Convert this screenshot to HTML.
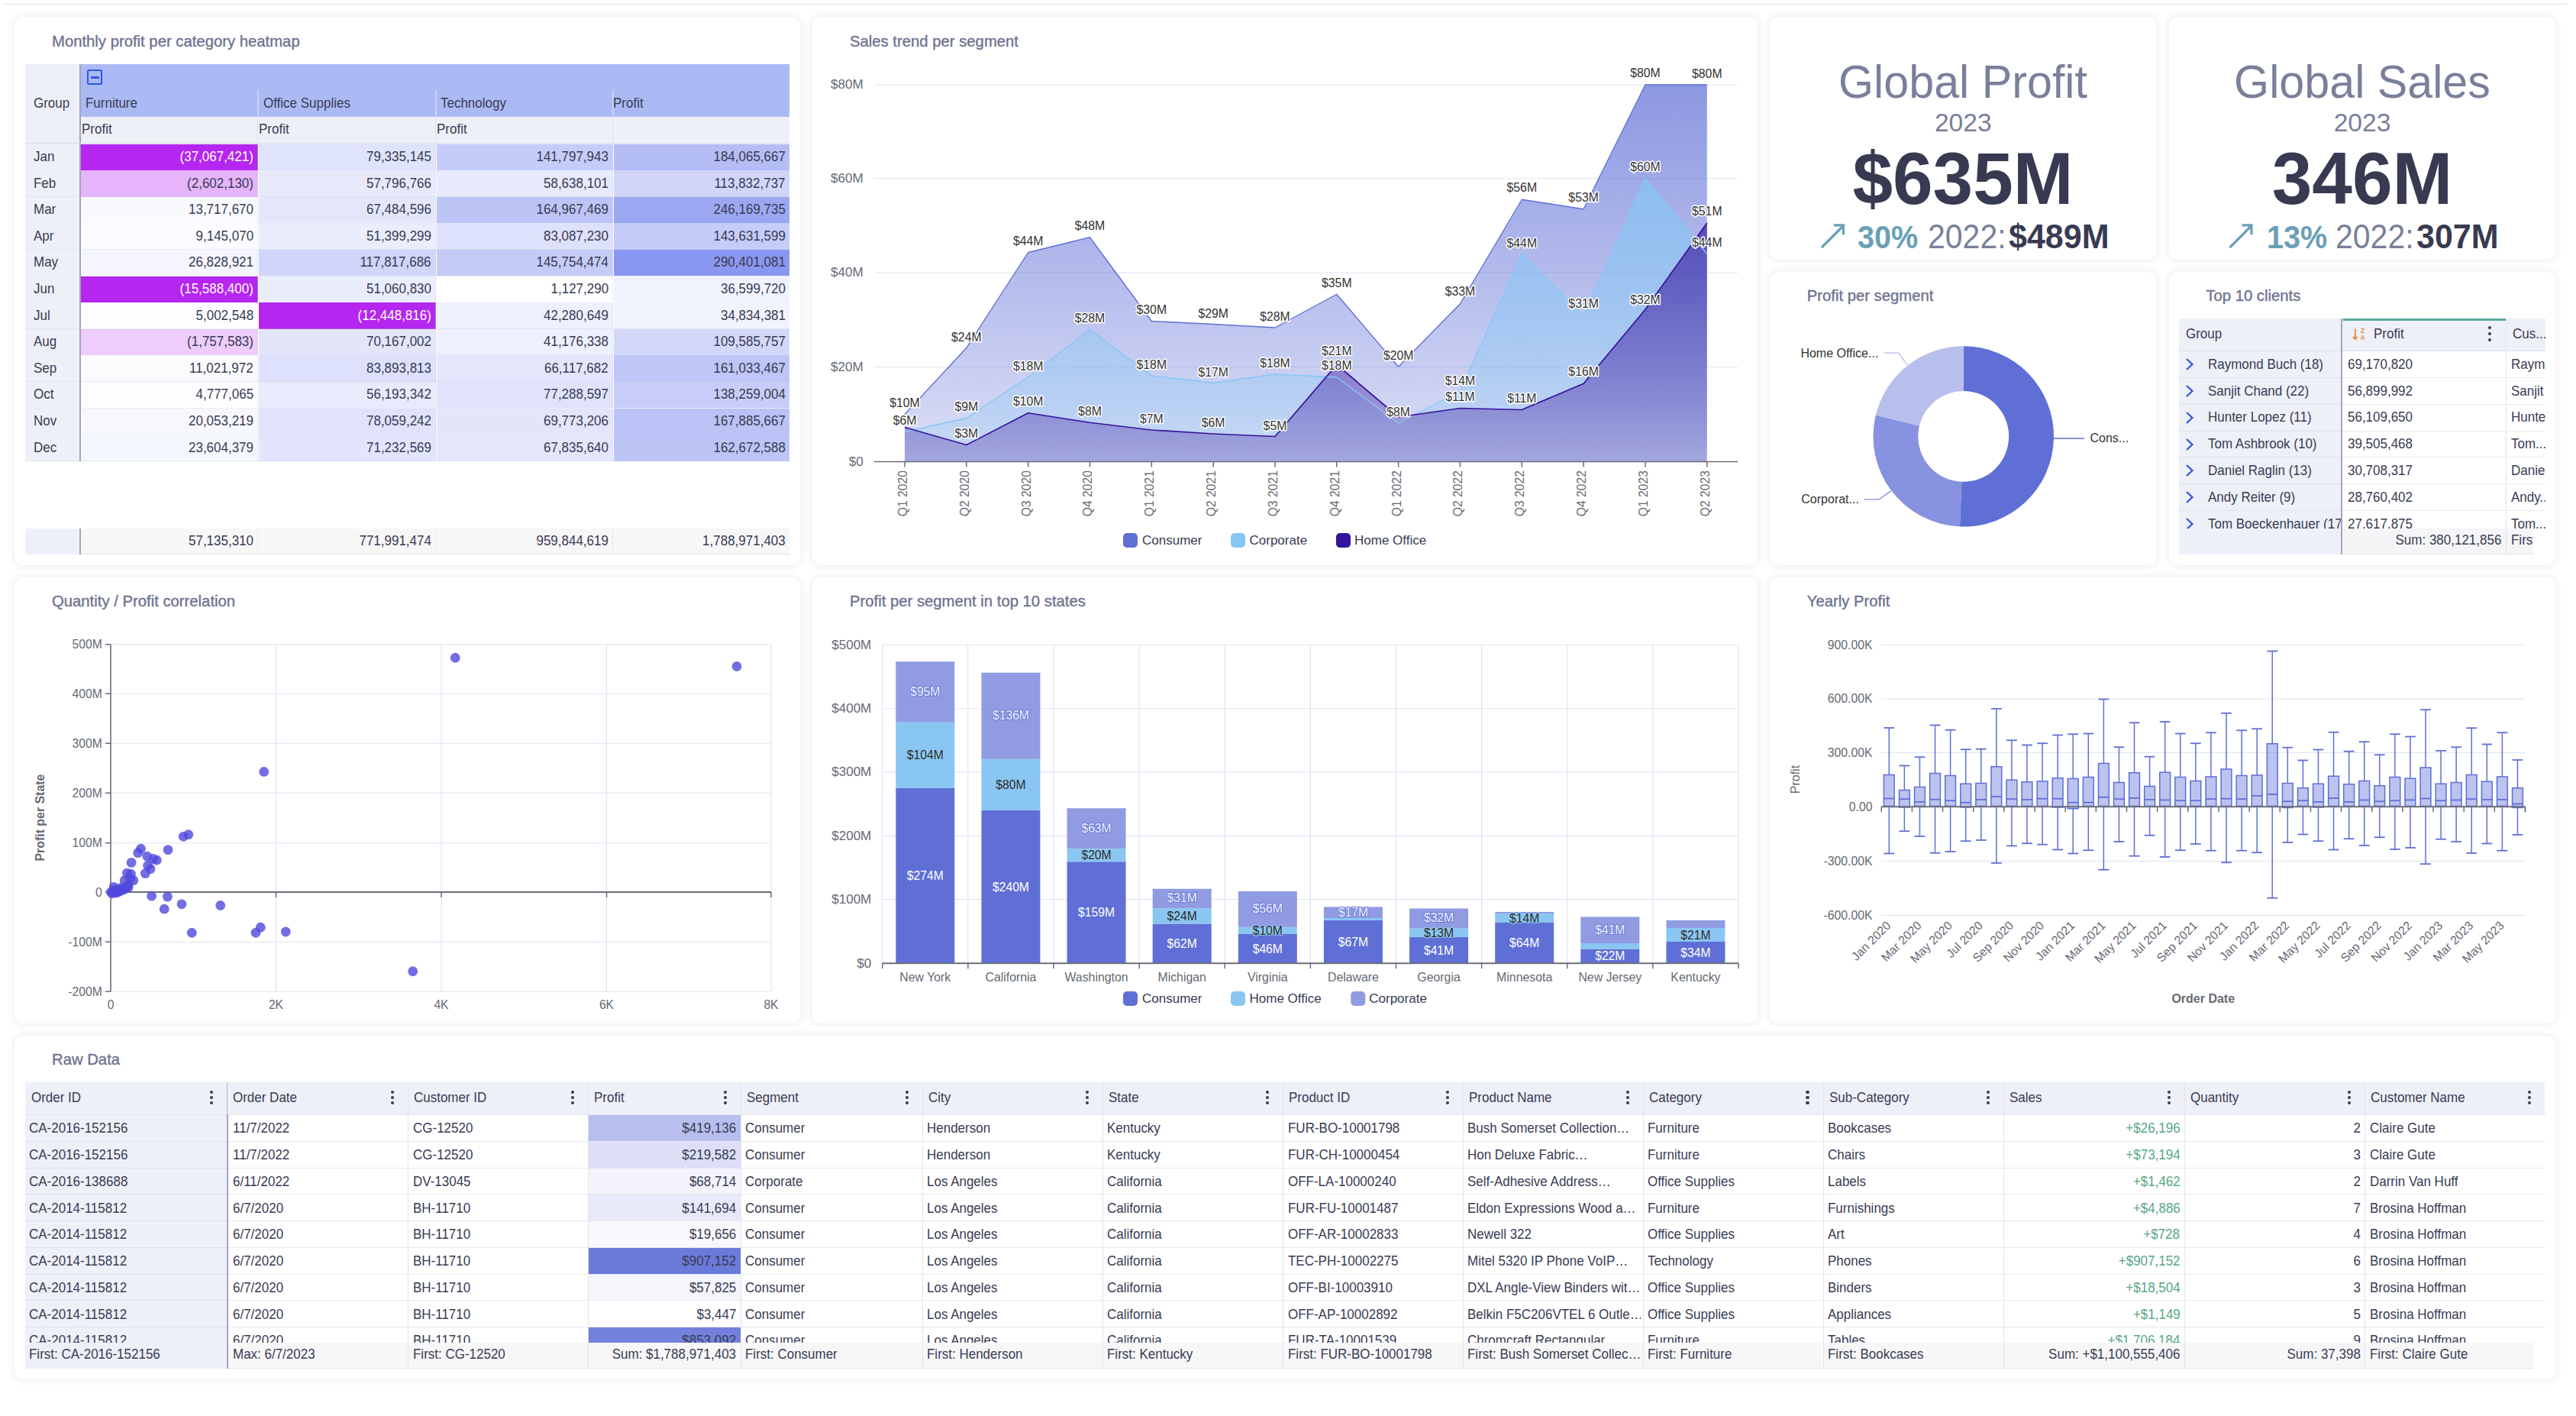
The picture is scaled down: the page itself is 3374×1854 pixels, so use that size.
<!DOCTYPE html><html><head><meta charset="utf-8"><style>
html,body{margin:0;padding:0;} body{width:3374px;height:1854px;position:relative;overflow:hidden;background:#ffffff;font-family:"Liberation Sans", sans-serif;}
.p{position:absolute;background:#fff;border-radius:12px;box-shadow:0 0 10px 2px rgba(40,45,100,0.075);}
.ttl{position:absolute;font-size:20.3px;color:#6d7290;white-space:nowrap;-webkit-text-stroke:0.35px #6d7290;}
.clip{position:absolute;overflow:hidden;white-space:nowrap;}
svg text{font-family:"Liberation Sans", sans-serif;}
</style></head><body>
<div style="position:absolute;left:3px;top:5px;width:3360px;height:1px;background:#e3e4ea"></div>
<div class="p" style="left:19px;top:22px;width:1029px;height:718px"></div>
<div class="p" style="left:1064px;top:22px;width:1238px;height:718px"></div>
<div class="p" style="left:2318px;top:22px;width:507px;height:318px"></div>
<div class="p" style="left:2841px;top:22px;width:506px;height:318px"></div>
<div class="p" style="left:2318px;top:356px;width:507px;height:384px"></div>
<div class="p" style="left:2841px;top:356px;width:506px;height:384px"></div>
<div class="p" style="left:19px;top:756px;width:1029px;height:584px"></div>
<div class="p" style="left:1064px;top:756px;width:1238px;height:584px"></div>
<div class="p" style="left:2318px;top:756px;width:1029px;height:584px"></div>
<div class="p" style="left:19px;top:1356px;width:3328px;height:450px"></div>
<div style="position:absolute;left:68.00px;top:43.34px;font-size:20.3px;line-height:23.34px;color:#6d7290;font-weight:normal;white-space:nowrap;-webkit-text-stroke:0.35px #6d7290;">Monthly profit per category heatmap</div>
<div style="position:absolute;left:1113.00px;top:43.34px;font-size:20.3px;line-height:23.34px;color:#6d7290;font-weight:normal;white-space:nowrap;-webkit-text-stroke:0.35px #6d7290;">Sales trend per segment</div>
<div style="position:absolute;left:2366.70px;top:376.39px;font-size:20.3px;line-height:23.34px;color:#6d7290;font-weight:normal;white-space:nowrap;-webkit-text-stroke:0.35px #6d7290;">Profit per segment</div>
<div style="position:absolute;left:2889.30px;top:376.39px;font-size:20.3px;line-height:23.34px;color:#6d7290;font-weight:normal;white-space:nowrap;-webkit-text-stroke:0.35px #6d7290;">Top 10 clients</div>
<div style="position:absolute;left:68.00px;top:775.84px;font-size:20.3px;line-height:23.34px;color:#6d7290;font-weight:normal;white-space:nowrap;-webkit-text-stroke:0.35px #6d7290;">Quantity / Profit correlation</div>
<div style="position:absolute;left:1113.00px;top:775.84px;font-size:20.3px;line-height:23.34px;color:#6d7290;font-weight:normal;white-space:nowrap;-webkit-text-stroke:0.35px #6d7290;">Profit per segment in top 10 states</div>
<div style="position:absolute;left:2366.75px;top:775.84px;font-size:20.3px;line-height:23.34px;color:#6d7290;font-weight:normal;white-space:nowrap;-webkit-text-stroke:0.35px #6d7290;">Yearly Profit</div>
<div style="position:absolute;left:68.00px;top:1375.84px;font-size:20.3px;line-height:23.34px;color:#6d7290;font-weight:normal;white-space:nowrap;-webkit-text-stroke:0.35px #6d7290;">Raw Data</div>
<div style="position:absolute;left:33px;top:84px;width:71.5px;height:103.5px;background:#eef0f8"></div>
<div style="position:absolute;left:104.5px;top:84px;width:929.5px;height:68.5px;background:#abbaf4"></div>
<div style="position:absolute;left:104.5px;top:152.5px;width:929.5px;height:35.0px;background:#eef0f8"></div>
<div style="position:absolute;left:337.0px;top:118px;width:1.5px;height:34.5px;background:#c9d2f7"></div>
<div style="position:absolute;left:337.0px;top:152.5px;width:1px;height:35.0px;background:#dcdfea"></div>
<div style="position:absolute;left:570.0px;top:118px;width:1.5px;height:34.5px;background:#c9d2f7"></div>
<div style="position:absolute;left:570.0px;top:152.5px;width:1px;height:35.0px;background:#dcdfea"></div>
<div style="position:absolute;left:802.0px;top:118px;width:1.5px;height:34.5px;background:#c9d2f7"></div>
<div style="position:absolute;left:802.0px;top:152.5px;width:1px;height:35.0px;background:#dcdfea"></div>
<div style="position:absolute;left:114px;top:91.1px;width:15.8px;height:15.7px;border:2.5px solid #2f55e6;border-radius:2.5px;box-sizing:content-box"></div>
<div style="position:absolute;left:119.2px;top:100.3px;width:10.4px;height:2.4px;background:#2f55e6;border-radius:1px"></div>
<div style="position:absolute;left:43.75px;top:124.60px;font-size:17.8px;line-height:20.47px;color:#383b53;font-weight:normal;white-space:nowrap;transform:scaleX(0.955);transform-origin:left center;">Group</div>
<div style="position:absolute;left:111.75px;top:124.60px;font-size:17.8px;line-height:20.47px;color:#383b53;font-weight:normal;white-space:nowrap;transform:scaleX(0.955);transform-origin:left center;">Furniture</div>
<div style="position:absolute;left:344.50px;top:124.60px;font-size:17.8px;line-height:20.47px;color:#383b53;font-weight:normal;white-space:nowrap;transform:scaleX(0.955);transform-origin:left center;">Office Supplies</div>
<div style="position:absolute;left:577.00px;top:124.60px;font-size:17.8px;line-height:20.47px;color:#383b53;font-weight:normal;white-space:nowrap;transform:scaleX(0.955);transform-origin:left center;">Technology</div>
<div style="position:absolute;left:803.25px;top:124.60px;font-size:17.8px;line-height:20.47px;color:#383b53;font-weight:normal;white-space:nowrap;transform:scaleX(0.955);transform-origin:left center;">Profit</div>
<div style="position:absolute;left:106.75px;top:158.60px;font-size:17.8px;line-height:20.47px;color:#383b53;font-weight:normal;white-space:nowrap;transform:scaleX(0.955);transform-origin:left center;">Profit</div>
<div style="position:absolute;left:338.75px;top:158.60px;font-size:17.8px;line-height:20.47px;color:#383b53;font-weight:normal;white-space:nowrap;transform:scaleX(0.955);transform-origin:left center;">Profit</div>
<div style="position:absolute;left:571.50px;top:158.60px;font-size:17.8px;line-height:20.47px;color:#383b53;font-weight:normal;white-space:nowrap;transform:scaleX(0.955);transform-origin:left center;">Profit</div>
<div style="position:absolute;left:33px;top:187.5px;width:1001px;height:1.0px;background:#e6e8f0"></div>
<div style="position:absolute;left:33px;top:188.5px;width:71.5px;height:34.6px;background:#eef0f8"></div>
<div style="position:absolute;left:43.75px;top:195.00px;font-size:17.8px;line-height:20.47px;color:#383b53;font-weight:normal;white-space:nowrap;transform:scaleX(0.955);transform-origin:left center;">Jan</div>
<div style="position:absolute;left:105.5px;top:188.5px;width:232.0px;height:34.6px;background:#b526f0"></div>
<div style="position:absolute;right:3042.00px;top:195.00px;font-size:17.8px;line-height:20.47px;color:#ffffff;font-weight:normal;white-space:nowrap;transform:scaleX(0.955);transform-origin:right center;">(37,067,421)</div>
<div style="position:absolute;left:338.5px;top:188.5px;width:232.0px;height:34.6px;background:#dfe3fb"></div>
<div style="position:absolute;right:2809.00px;top:195.00px;font-size:17.8px;line-height:20.47px;color:#383b53;font-weight:normal;white-space:nowrap;transform:scaleX(0.955);transform-origin:right center;">79,335,145</div>
<div style="position:absolute;left:571.5px;top:188.5px;width:231.0px;height:34.6px;background:#c6ccf8"></div>
<div style="position:absolute;right:2577.00px;top:195.00px;font-size:17.8px;line-height:20.47px;color:#383b53;font-weight:normal;white-space:nowrap;transform:scaleX(0.955);transform-origin:right center;">141,797,943</div>
<div style="position:absolute;left:803.5px;top:188.5px;width:230.5px;height:34.6px;background:#b5bdf5"></div>
<div style="position:absolute;right:2345.50px;top:195.00px;font-size:17.8px;line-height:20.47px;color:#383b53;font-weight:normal;white-space:nowrap;transform:scaleX(0.955);transform-origin:right center;">184,065,667</div>
<div style="position:absolute;left:33px;top:222.6px;width:1001px;height:1px;background:rgba(200,203,220,0.35)"></div>
<div style="position:absolute;left:33px;top:223.1px;width:71.5px;height:34.6px;background:#eef0f8"></div>
<div style="position:absolute;left:43.75px;top:229.60px;font-size:17.8px;line-height:20.47px;color:#383b53;font-weight:normal;white-space:nowrap;transform:scaleX(0.955);transform-origin:left center;">Feb</div>
<div style="position:absolute;left:105.5px;top:223.1px;width:232.0px;height:34.6px;background:#e5b4fa"></div>
<div style="position:absolute;right:3042.00px;top:229.60px;font-size:17.8px;line-height:20.47px;color:#383b53;font-weight:normal;white-space:nowrap;transform:scaleX(0.955);transform-origin:right center;">(2,602,130)</div>
<div style="position:absolute;left:338.5px;top:223.1px;width:232.0px;height:34.6px;background:#e8eafc"></div>
<div style="position:absolute;right:2809.00px;top:229.60px;font-size:17.8px;line-height:20.47px;color:#383b53;font-weight:normal;white-space:nowrap;transform:scaleX(0.955);transform-origin:right center;">57,796,766</div>
<div style="position:absolute;left:571.5px;top:223.1px;width:231.0px;height:34.6px;background:#e7eafc"></div>
<div style="position:absolute;right:2577.00px;top:229.60px;font-size:17.8px;line-height:20.47px;color:#383b53;font-weight:normal;white-space:nowrap;transform:scaleX(0.955);transform-origin:right center;">58,638,101</div>
<div style="position:absolute;left:803.5px;top:223.1px;width:230.5px;height:34.6px;background:#d1d6f9"></div>
<div style="position:absolute;right:2345.50px;top:229.60px;font-size:17.8px;line-height:20.47px;color:#383b53;font-weight:normal;white-space:nowrap;transform:scaleX(0.955);transform-origin:right center;">113,832,737</div>
<div style="position:absolute;left:33px;top:257.2px;width:1001px;height:1px;background:rgba(200,203,220,0.35)"></div>
<div style="position:absolute;left:33px;top:257.7px;width:71.5px;height:34.6px;background:#eef0f8"></div>
<div style="position:absolute;left:43.75px;top:264.20px;font-size:17.8px;line-height:20.47px;color:#383b53;font-weight:normal;white-space:nowrap;transform:scaleX(0.955);transform-origin:left center;">Mar</div>
<div style="position:absolute;left:105.5px;top:257.7px;width:232.0px;height:34.6px;background:#f9fafe"></div>
<div style="position:absolute;right:3042.00px;top:264.20px;font-size:17.8px;line-height:20.47px;color:#383b53;font-weight:normal;white-space:nowrap;transform:scaleX(0.955);transform-origin:right center;">13,717,670</div>
<div style="position:absolute;left:338.5px;top:257.7px;width:232.0px;height:34.6px;background:#e4e7fc"></div>
<div style="position:absolute;right:2809.00px;top:264.20px;font-size:17.8px;line-height:20.47px;color:#383b53;font-weight:normal;white-space:nowrap;transform:scaleX(0.955);transform-origin:right center;">67,484,596</div>
<div style="position:absolute;left:571.5px;top:257.7px;width:231.0px;height:34.6px;background:#bdc4f6"></div>
<div style="position:absolute;right:2577.00px;top:264.20px;font-size:17.8px;line-height:20.47px;color:#383b53;font-weight:normal;white-space:nowrap;transform:scaleX(0.955);transform-origin:right center;">164,967,469</div>
<div style="position:absolute;left:803.5px;top:257.7px;width:230.5px;height:34.6px;background:#9ca7f2"></div>
<div style="position:absolute;right:2345.50px;top:264.20px;font-size:17.8px;line-height:20.47px;color:#383b53;font-weight:normal;white-space:nowrap;transform:scaleX(0.955);transform-origin:right center;">246,169,735</div>
<div style="position:absolute;left:33px;top:291.8px;width:1001px;height:1px;background:rgba(200,203,220,0.35)"></div>
<div style="position:absolute;left:33px;top:292.3px;width:71.5px;height:34.6px;background:#eef0f8"></div>
<div style="position:absolute;left:43.75px;top:298.80px;font-size:17.8px;line-height:20.47px;color:#383b53;font-weight:normal;white-space:nowrap;transform:scaleX(0.955);transform-origin:left center;">Apr</div>
<div style="position:absolute;left:105.5px;top:292.3px;width:232.0px;height:34.6px;background:#fbfcff"></div>
<div style="position:absolute;right:3042.00px;top:298.80px;font-size:17.8px;line-height:20.47px;color:#383b53;font-weight:normal;white-space:nowrap;transform:scaleX(0.955);transform-origin:right center;">9,145,070</div>
<div style="position:absolute;left:338.5px;top:292.3px;width:232.0px;height:34.6px;background:#eaedfc"></div>
<div style="position:absolute;right:2809.00px;top:298.80px;font-size:17.8px;line-height:20.47px;color:#383b53;font-weight:normal;white-space:nowrap;transform:scaleX(0.955);transform-origin:right center;">51,399,299</div>
<div style="position:absolute;left:571.5px;top:292.3px;width:231.0px;height:34.6px;background:#dee1fb"></div>
<div style="position:absolute;right:2577.00px;top:298.80px;font-size:17.8px;line-height:20.47px;color:#383b53;font-weight:normal;white-space:nowrap;transform:scaleX(0.955);transform-origin:right center;">83,087,230</div>
<div style="position:absolute;left:803.5px;top:292.3px;width:230.5px;height:34.6px;background:#c5ccf8"></div>
<div style="position:absolute;right:2345.50px;top:298.80px;font-size:17.8px;line-height:20.47px;color:#383b53;font-weight:normal;white-space:nowrap;transform:scaleX(0.955);transform-origin:right center;">143,631,599</div>
<div style="position:absolute;left:33px;top:326.40000000000003px;width:1001px;height:1px;background:rgba(200,203,220,0.35)"></div>
<div style="position:absolute;left:33px;top:326.9px;width:71.5px;height:34.6px;background:#eef0f8"></div>
<div style="position:absolute;left:43.75px;top:333.40px;font-size:17.8px;line-height:20.47px;color:#383b53;font-weight:normal;white-space:nowrap;transform:scaleX(0.955);transform-origin:left center;">May</div>
<div style="position:absolute;left:105.5px;top:326.9px;width:232.0px;height:34.6px;background:#f4f5fe"></div>
<div style="position:absolute;right:3042.00px;top:333.40px;font-size:17.8px;line-height:20.47px;color:#383b53;font-weight:normal;white-space:nowrap;transform:scaleX(0.955);transform-origin:right center;">26,828,921</div>
<div style="position:absolute;left:338.5px;top:326.9px;width:232.0px;height:34.6px;background:#d0d5f9"></div>
<div style="position:absolute;right:2809.00px;top:333.40px;font-size:17.8px;line-height:20.47px;color:#383b53;font-weight:normal;white-space:nowrap;transform:scaleX(0.955);transform-origin:right center;">117,817,686</div>
<div style="position:absolute;left:571.5px;top:326.9px;width:231.0px;height:34.6px;background:#c4cbf7"></div>
<div style="position:absolute;right:2577.00px;top:333.40px;font-size:17.8px;line-height:20.47px;color:#383b53;font-weight:normal;white-space:nowrap;transform:scaleX(0.955);transform-origin:right center;">145,754,474</div>
<div style="position:absolute;left:803.5px;top:326.9px;width:230.5px;height:34.6px;background:#8a97f0"></div>
<div style="position:absolute;right:2345.50px;top:333.40px;font-size:17.8px;line-height:20.47px;color:#383b53;font-weight:normal;white-space:nowrap;transform:scaleX(0.955);transform-origin:right center;">290,401,081</div>
<div style="position:absolute;left:33px;top:361.0px;width:1001px;height:1px;background:rgba(200,203,220,0.35)"></div>
<div style="position:absolute;left:33px;top:361.5px;width:71.5px;height:34.6px;background:#eef0f8"></div>
<div style="position:absolute;left:43.75px;top:368.00px;font-size:17.8px;line-height:20.47px;color:#383b53;font-weight:normal;white-space:nowrap;transform:scaleX(0.955);transform-origin:left center;">Jun</div>
<div style="position:absolute;left:105.5px;top:361.5px;width:232.0px;height:34.6px;background:#b526f0"></div>
<div style="position:absolute;right:3042.00px;top:368.00px;font-size:17.8px;line-height:20.47px;color:#ffffff;font-weight:normal;white-space:nowrap;transform:scaleX(0.955);transform-origin:right center;">(15,588,400)</div>
<div style="position:absolute;left:338.5px;top:361.5px;width:232.0px;height:34.6px;background:#eaedfc"></div>
<div style="position:absolute;right:2809.00px;top:368.00px;font-size:17.8px;line-height:20.47px;color:#383b53;font-weight:normal;white-space:nowrap;transform:scaleX(0.955);transform-origin:right center;">51,060,830</div>
<div style="position:absolute;left:571.5px;top:361.5px;width:231.0px;height:34.6px;background:#ffffff"></div>
<div style="position:absolute;right:2577.00px;top:368.00px;font-size:17.8px;line-height:20.47px;color:#383b53;font-weight:normal;white-space:nowrap;transform:scaleX(0.955);transform-origin:right center;">1,127,290</div>
<div style="position:absolute;left:803.5px;top:361.5px;width:230.5px;height:34.6px;background:#f0f2fd"></div>
<div style="position:absolute;right:2345.50px;top:368.00px;font-size:17.8px;line-height:20.47px;color:#383b53;font-weight:normal;white-space:nowrap;transform:scaleX(0.955);transform-origin:right center;">36,599,720</div>
<div style="position:absolute;left:33px;top:395.6px;width:1001px;height:1px;background:rgba(200,203,220,0.35)"></div>
<div style="position:absolute;left:33px;top:396.1px;width:71.5px;height:34.6px;background:#eef0f8"></div>
<div style="position:absolute;left:43.75px;top:402.60px;font-size:17.8px;line-height:20.47px;color:#383b53;font-weight:normal;white-space:nowrap;transform:scaleX(0.955);transform-origin:left center;">Jul</div>
<div style="position:absolute;left:105.5px;top:396.1px;width:232.0px;height:34.6px;background:#fdfdff"></div>
<div style="position:absolute;right:3042.00px;top:402.60px;font-size:17.8px;line-height:20.47px;color:#383b53;font-weight:normal;white-space:nowrap;transform:scaleX(0.955);transform-origin:right center;">5,002,548</div>
<div style="position:absolute;left:338.5px;top:396.1px;width:232.0px;height:34.6px;background:#b526f0"></div>
<div style="position:absolute;right:2809.00px;top:402.60px;font-size:17.8px;line-height:20.47px;color:#ffffff;font-weight:normal;white-space:nowrap;transform:scaleX(0.955);transform-origin:right center;">(12,448,816)</div>
<div style="position:absolute;left:571.5px;top:396.1px;width:231.0px;height:34.6px;background:#eef0fd"></div>
<div style="position:absolute;right:2577.00px;top:402.60px;font-size:17.8px;line-height:20.47px;color:#383b53;font-weight:normal;white-space:nowrap;transform:scaleX(0.955);transform-origin:right center;">42,280,649</div>
<div style="position:absolute;left:803.5px;top:396.1px;width:230.5px;height:34.6px;background:#f1f3fd"></div>
<div style="position:absolute;right:2345.50px;top:402.60px;font-size:17.8px;line-height:20.47px;color:#383b53;font-weight:normal;white-space:nowrap;transform:scaleX(0.955);transform-origin:right center;">34,834,381</div>
<div style="position:absolute;left:33px;top:430.20000000000005px;width:1001px;height:1px;background:rgba(200,203,220,0.35)"></div>
<div style="position:absolute;left:33px;top:430.70000000000005px;width:71.5px;height:34.6px;background:#eef0f8"></div>
<div style="position:absolute;left:43.75px;top:437.20px;font-size:17.8px;line-height:20.47px;color:#383b53;font-weight:normal;white-space:nowrap;transform:scaleX(0.955);transform-origin:left center;">Aug</div>
<div style="position:absolute;left:105.5px;top:430.70000000000005px;width:232.0px;height:34.6px;background:#eeccfb"></div>
<div style="position:absolute;right:3042.00px;top:437.20px;font-size:17.8px;line-height:20.47px;color:#383b53;font-weight:normal;white-space:nowrap;transform:scaleX(0.955);transform-origin:right center;">(1,757,583)</div>
<div style="position:absolute;left:338.5px;top:430.70000000000005px;width:232.0px;height:34.6px;background:#e3e6fb"></div>
<div style="position:absolute;right:2809.00px;top:437.20px;font-size:17.8px;line-height:20.47px;color:#383b53;font-weight:normal;white-space:nowrap;transform:scaleX(0.955);transform-origin:right center;">70,167,002</div>
<div style="position:absolute;left:571.5px;top:430.70000000000005px;width:231.0px;height:34.6px;background:#eef0fd"></div>
<div style="position:absolute;right:2577.00px;top:437.20px;font-size:17.8px;line-height:20.47px;color:#383b53;font-weight:normal;white-space:nowrap;transform:scaleX(0.955);transform-origin:right center;">41,176,338</div>
<div style="position:absolute;left:803.5px;top:430.70000000000005px;width:230.5px;height:34.6px;background:#d3d8f9"></div>
<div style="position:absolute;right:2345.50px;top:437.20px;font-size:17.8px;line-height:20.47px;color:#383b53;font-weight:normal;white-space:nowrap;transform:scaleX(0.955);transform-origin:right center;">109,585,757</div>
<div style="position:absolute;left:33px;top:464.80000000000007px;width:1001px;height:1px;background:rgba(200,203,220,0.35)"></div>
<div style="position:absolute;left:33px;top:465.3px;width:71.5px;height:34.6px;background:#eef0f8"></div>
<div style="position:absolute;left:43.75px;top:471.80px;font-size:17.8px;line-height:20.47px;color:#383b53;font-weight:normal;white-space:nowrap;transform:scaleX(0.955);transform-origin:left center;">Sep</div>
<div style="position:absolute;left:105.5px;top:465.3px;width:232.0px;height:34.6px;background:#fbfbfe"></div>
<div style="position:absolute;right:3042.00px;top:471.80px;font-size:17.8px;line-height:20.47px;color:#383b53;font-weight:normal;white-space:nowrap;transform:scaleX(0.955);transform-origin:right center;">11,021,972</div>
<div style="position:absolute;left:338.5px;top:465.3px;width:232.0px;height:34.6px;background:#dde1fb"></div>
<div style="position:absolute;right:2809.00px;top:471.80px;font-size:17.8px;line-height:20.47px;color:#383b53;font-weight:normal;white-space:nowrap;transform:scaleX(0.955);transform-origin:right center;">83,893,813</div>
<div style="position:absolute;left:571.5px;top:465.3px;width:231.0px;height:34.6px;background:#e4e7fc"></div>
<div style="position:absolute;right:2577.00px;top:471.80px;font-size:17.8px;line-height:20.47px;color:#383b53;font-weight:normal;white-space:nowrap;transform:scaleX(0.955);transform-origin:right center;">66,117,682</div>
<div style="position:absolute;left:803.5px;top:465.3px;width:230.5px;height:34.6px;background:#bec5f7"></div>
<div style="position:absolute;right:2345.50px;top:471.80px;font-size:17.8px;line-height:20.47px;color:#383b53;font-weight:normal;white-space:nowrap;transform:scaleX(0.955);transform-origin:right center;">161,033,467</div>
<div style="position:absolute;left:33px;top:499.40000000000003px;width:1001px;height:1px;background:rgba(200,203,220,0.35)"></div>
<div style="position:absolute;left:33px;top:499.90000000000003px;width:71.5px;height:34.6px;background:#eef0f8"></div>
<div style="position:absolute;left:43.75px;top:506.40px;font-size:17.8px;line-height:20.47px;color:#383b53;font-weight:normal;white-space:nowrap;transform:scaleX(0.955);transform-origin:left center;">Oct</div>
<div style="position:absolute;left:105.5px;top:499.90000000000003px;width:232.0px;height:34.6px;background:#fdfdff"></div>
<div style="position:absolute;right:3042.00px;top:506.40px;font-size:17.8px;line-height:20.47px;color:#383b53;font-weight:normal;white-space:nowrap;transform:scaleX(0.955);transform-origin:right center;">4,777,065</div>
<div style="position:absolute;left:338.5px;top:499.90000000000003px;width:232.0px;height:34.6px;background:#e8ebfc"></div>
<div style="position:absolute;right:2809.00px;top:506.40px;font-size:17.8px;line-height:20.47px;color:#383b53;font-weight:normal;white-space:nowrap;transform:scaleX(0.955);transform-origin:right center;">56,193,342</div>
<div style="position:absolute;left:571.5px;top:499.90000000000003px;width:231.0px;height:34.6px;background:#e0e3fb"></div>
<div style="position:absolute;right:2577.00px;top:506.40px;font-size:17.8px;line-height:20.47px;color:#383b53;font-weight:normal;white-space:nowrap;transform:scaleX(0.955);transform-origin:right center;">77,288,597</div>
<div style="position:absolute;left:803.5px;top:499.90000000000003px;width:230.5px;height:34.6px;background:#c7cdf8"></div>
<div style="position:absolute;right:2345.50px;top:506.40px;font-size:17.8px;line-height:20.47px;color:#383b53;font-weight:normal;white-space:nowrap;transform:scaleX(0.955);transform-origin:right center;">138,259,004</div>
<div style="position:absolute;left:33px;top:534.0px;width:1001px;height:1px;background:rgba(200,203,220,0.35)"></div>
<div style="position:absolute;left:33px;top:534.5px;width:71.5px;height:34.6px;background:#eef0f8"></div>
<div style="position:absolute;left:43.75px;top:541.00px;font-size:17.8px;line-height:20.47px;color:#383b53;font-weight:normal;white-space:nowrap;transform:scaleX(0.955);transform-origin:left center;">Nov</div>
<div style="position:absolute;left:105.5px;top:534.5px;width:232.0px;height:34.6px;background:#f7f8fe"></div>
<div style="position:absolute;right:3042.00px;top:541.00px;font-size:17.8px;line-height:20.47px;color:#383b53;font-weight:normal;white-space:nowrap;transform:scaleX(0.955);transform-origin:right center;">20,053,219</div>
<div style="position:absolute;left:338.5px;top:534.5px;width:232.0px;height:34.6px;background:#e0e3fb"></div>
<div style="position:absolute;right:2809.00px;top:541.00px;font-size:17.8px;line-height:20.47px;color:#383b53;font-weight:normal;white-space:nowrap;transform:scaleX(0.955);transform-origin:right center;">78,059,242</div>
<div style="position:absolute;left:571.5px;top:534.5px;width:231.0px;height:34.6px;background:#e3e6fb"></div>
<div style="position:absolute;right:2577.00px;top:541.00px;font-size:17.8px;line-height:20.47px;color:#383b53;font-weight:normal;white-space:nowrap;transform:scaleX(0.955);transform-origin:right center;">69,773,206</div>
<div style="position:absolute;left:803.5px;top:534.5px;width:230.5px;height:34.6px;background:#bbc3f6"></div>
<div style="position:absolute;right:2345.50px;top:541.00px;font-size:17.8px;line-height:20.47px;color:#383b53;font-weight:normal;white-space:nowrap;transform:scaleX(0.955);transform-origin:right center;">167,885,667</div>
<div style="position:absolute;left:33px;top:568.6px;width:1001px;height:1px;background:rgba(200,203,220,0.35)"></div>
<div style="position:absolute;left:33px;top:569.1px;width:71.5px;height:34.6px;background:#eef0f8"></div>
<div style="position:absolute;left:43.75px;top:575.60px;font-size:17.8px;line-height:20.47px;color:#383b53;font-weight:normal;white-space:nowrap;transform:scaleX(0.955);transform-origin:left center;">Dec</div>
<div style="position:absolute;left:105.5px;top:569.1px;width:232.0px;height:34.6px;background:#f5f7fe"></div>
<div style="position:absolute;right:3042.00px;top:575.60px;font-size:17.8px;line-height:20.47px;color:#383b53;font-weight:normal;white-space:nowrap;transform:scaleX(0.955);transform-origin:right center;">23,604,379</div>
<div style="position:absolute;left:338.5px;top:569.1px;width:232.0px;height:34.6px;background:#e2e5fb"></div>
<div style="position:absolute;right:2809.00px;top:575.60px;font-size:17.8px;line-height:20.47px;color:#383b53;font-weight:normal;white-space:nowrap;transform:scaleX(0.955);transform-origin:right center;">71,232,569</div>
<div style="position:absolute;left:571.5px;top:569.1px;width:231.0px;height:34.6px;background:#e4e7fb"></div>
<div style="position:absolute;right:2577.00px;top:575.60px;font-size:17.8px;line-height:20.47px;color:#383b53;font-weight:normal;white-space:nowrap;transform:scaleX(0.955);transform-origin:right center;">67,835,640</div>
<div style="position:absolute;left:803.5px;top:569.1px;width:230.5px;height:34.6px;background:#bdc5f7"></div>
<div style="position:absolute;right:2345.50px;top:575.60px;font-size:17.8px;line-height:20.47px;color:#383b53;font-weight:normal;white-space:nowrap;transform:scaleX(0.955);transform-origin:right center;">162,672,588</div>
<div style="position:absolute;left:33px;top:603.2px;width:1001px;height:1px;background:rgba(200,203,220,0.35)"></div>
<div style="position:absolute;left:337.0px;top:187.5px;width:1px;height:416.20000000000005px;background:rgba(210,212,225,0.45)"></div>
<div style="position:absolute;left:570.0px;top:187.5px;width:1px;height:416.20000000000005px;background:rgba(210,212,225,0.45)"></div>
<div style="position:absolute;left:802.0px;top:187.5px;width:1px;height:416.20000000000005px;background:rgba(210,212,225,0.45)"></div>
<div style="position:absolute;left:33px;top:692px;width:71.5px;height:33.5px;background:#eef0f8"></div>
<div style="position:absolute;left:104.5px;top:692px;width:929.5px;height:33.5px;background:#f7f7f8;border-bottom:1px solid #e6e7ee;box-sizing:border-box"></div>
<div style="position:absolute;left:337.0px;top:692px;width:1px;height:33.5px;background:#e6e7ee"></div>
<div style="position:absolute;left:570.0px;top:692px;width:1px;height:33.5px;background:#e6e7ee"></div>
<div style="position:absolute;left:802.0px;top:692px;width:1px;height:33.5px;background:#e6e7ee"></div>
<div style="position:absolute;right:3042.00px;top:697.60px;font-size:17.8px;line-height:20.47px;color:#383b53;font-weight:normal;white-space:nowrap;transform:scaleX(0.955);transform-origin:right center;">57,135,310</div>
<div style="position:absolute;right:2809.00px;top:697.60px;font-size:17.8px;line-height:20.47px;color:#383b53;font-weight:normal;white-space:nowrap;transform:scaleX(0.955);transform-origin:right center;">771,991,474</div>
<div style="position:absolute;right:2577.00px;top:697.60px;font-size:17.8px;line-height:20.47px;color:#383b53;font-weight:normal;white-space:nowrap;transform:scaleX(0.955);transform-origin:right center;">959,844,619</div>
<div style="position:absolute;right:2345.50px;top:697.60px;font-size:17.8px;line-height:20.47px;color:#383b53;font-weight:normal;white-space:nowrap;transform:scaleX(0.955);transform-origin:right center;">1,788,971,403</div>
<div style="position:absolute;left:103.5px;top:84px;width:2px;height:519.7px;background:#a3a6ba"></div>
<div style="position:absolute;left:103.5px;top:692px;width:2px;height:33.5px;background:#a3a6ba"></div>
<div style="position:absolute;left:33px;top:187.0px;width:1001px;height:1px;background:#dfe1ea"></div>
<div style="position:absolute;left:2854.3px;top:417px;width:213.0px;height:308.6px;background:#eef0f8"></div>
<div style="position:absolute;left:3067.3px;top:417px;width:266.39999999999964px;height:42.5px;background:#eef0f8"></div>
<div style="position:absolute;left:2854.3px;top:459.0px;width:479.39999999999964px;height:1px;background:#dfe1ea"></div>
<div class="clip" style="left:0;top:0;width:3374px;height:692.4px">
<div style="position:absolute;left:2854.3px;top:493.87px;width:479.39999999999964px;height:1px;background:rgba(205,208,222,0.45)"></div>
<div style="position:absolute;left:2854.3px;top:528.74px;width:479.39999999999964px;height:1px;background:rgba(205,208,222,0.45)"></div>
<div style="position:absolute;left:2854.3px;top:563.61px;width:479.39999999999964px;height:1px;background:rgba(205,208,222,0.45)"></div>
<div style="position:absolute;left:2854.3px;top:598.48px;width:479.39999999999964px;height:1px;background:rgba(205,208,222,0.45)"></div>
<div style="position:absolute;left:2854.3px;top:633.35px;width:479.39999999999964px;height:1px;background:rgba(205,208,222,0.45)"></div>
<div style="position:absolute;left:2854.3px;top:668.22px;width:479.39999999999964px;height:1px;background:rgba(205,208,222,0.45)"></div>
<div style="position:absolute;left:2854.3px;top:703.09px;width:479.39999999999964px;height:1px;background:rgba(205,208,222,0.45)"></div>
<svg style="position:absolute;left:2861px;top:467.0px" width="16" height="20"><polyline points="3,3 10.5,10 3,17" fill="none" stroke="#2f55d4" stroke-width="2.2"/></svg>
<div class="clip" style="left:2854.3px;top:459.5px;width:213.0px;height:34.87px"><div style="position:absolute;left:37.40px;top:7.20px;font-size:17.8px;line-height:20.47px;color:#383b53;font-weight:normal;white-space:nowrap;transform:scaleX(0.955);transform-origin:left center;">Raymond Buch (18)</div></div>
<div style="position:absolute;left:3074.70px;top:466.70px;font-size:17.8px;line-height:20.47px;color:#383b53;font-weight:normal;white-space:nowrap;transform:scaleX(0.955);transform-origin:left center;">69,170,820</div>
<div class="clip" style="left:3282.4px;top:459.5px;width:51.29999999999973px;height:34.87px"><div style="position:absolute;left:6.40px;top:7.20px;font-size:17.8px;line-height:20.47px;color:#383b53;font-weight:normal;white-space:nowrap;transform:scaleX(0.955);transform-origin:left center;">Raymond Buch</div></div>
<svg style="position:absolute;left:2861px;top:501.87px" width="16" height="20"><polyline points="3,3 10.5,10 3,17" fill="none" stroke="#2f55d4" stroke-width="2.2"/></svg>
<div class="clip" style="left:2854.3px;top:494.37px;width:213.0px;height:34.87px"><div style="position:absolute;left:37.40px;top:7.20px;font-size:17.8px;line-height:20.47px;color:#383b53;font-weight:normal;white-space:nowrap;transform:scaleX(0.955);transform-origin:left center;">Sanjit Chand (22)</div></div>
<div style="position:absolute;left:3074.70px;top:501.57px;font-size:17.8px;line-height:20.47px;color:#383b53;font-weight:normal;white-space:nowrap;transform:scaleX(0.955);transform-origin:left center;">56,899,992</div>
<div class="clip" style="left:3282.4px;top:494.37px;width:51.29999999999973px;height:34.87px"><div style="position:absolute;left:6.40px;top:7.20px;font-size:17.8px;line-height:20.47px;color:#383b53;font-weight:normal;white-space:nowrap;transform:scaleX(0.955);transform-origin:left center;">Sanjit Chand</div></div>
<svg style="position:absolute;left:2861px;top:536.74px" width="16" height="20"><polyline points="3,3 10.5,10 3,17" fill="none" stroke="#2f55d4" stroke-width="2.2"/></svg>
<div class="clip" style="left:2854.3px;top:529.24px;width:213.0px;height:34.87px"><div style="position:absolute;left:37.40px;top:7.20px;font-size:17.8px;line-height:20.47px;color:#383b53;font-weight:normal;white-space:nowrap;transform:scaleX(0.955);transform-origin:left center;">Hunter Lopez (11)</div></div>
<div style="position:absolute;left:3074.70px;top:536.44px;font-size:17.8px;line-height:20.47px;color:#383b53;font-weight:normal;white-space:nowrap;transform:scaleX(0.955);transform-origin:left center;">56,109,650</div>
<div class="clip" style="left:3282.4px;top:529.24px;width:51.29999999999973px;height:34.87px"><div style="position:absolute;left:6.40px;top:7.20px;font-size:17.8px;line-height:20.47px;color:#383b53;font-weight:normal;white-space:nowrap;transform:scaleX(0.955);transform-origin:left center;">Hunter Lopez</div></div>
<svg style="position:absolute;left:2861px;top:571.61px" width="16" height="20"><polyline points="3,3 10.5,10 3,17" fill="none" stroke="#2f55d4" stroke-width="2.2"/></svg>
<div class="clip" style="left:2854.3px;top:564.11px;width:213.0px;height:34.87px"><div style="position:absolute;left:37.40px;top:7.20px;font-size:17.8px;line-height:20.47px;color:#383b53;font-weight:normal;white-space:nowrap;transform:scaleX(0.955);transform-origin:left center;">Tom Ashbrook (10)</div></div>
<div style="position:absolute;left:3074.70px;top:571.31px;font-size:17.8px;line-height:20.47px;color:#383b53;font-weight:normal;white-space:nowrap;transform:scaleX(0.955);transform-origin:left center;">39,505,468</div>
<div class="clip" style="left:3282.4px;top:564.11px;width:51.29999999999973px;height:34.87px"><div style="position:absolute;left:6.40px;top:7.20px;font-size:17.8px;line-height:20.47px;color:#383b53;font-weight:normal;white-space:nowrap;transform:scaleX(0.955);transform-origin:left center;">Tom...</div></div>
<svg style="position:absolute;left:2861px;top:606.48px" width="16" height="20"><polyline points="3,3 10.5,10 3,17" fill="none" stroke="#2f55d4" stroke-width="2.2"/></svg>
<div class="clip" style="left:2854.3px;top:598.98px;width:213.0px;height:34.87px"><div style="position:absolute;left:37.40px;top:7.20px;font-size:17.8px;line-height:20.47px;color:#383b53;font-weight:normal;white-space:nowrap;transform:scaleX(0.955);transform-origin:left center;">Daniel Raglin (13)</div></div>
<div style="position:absolute;left:3074.70px;top:606.18px;font-size:17.8px;line-height:20.47px;color:#383b53;font-weight:normal;white-space:nowrap;transform:scaleX(0.955);transform-origin:left center;">30,708,317</div>
<div class="clip" style="left:3282.4px;top:598.98px;width:51.29999999999973px;height:34.87px"><div style="position:absolute;left:6.40px;top:7.20px;font-size:17.8px;line-height:20.47px;color:#383b53;font-weight:normal;white-space:nowrap;transform:scaleX(0.955);transform-origin:left center;">Daniel Raglin</div></div>
<svg style="position:absolute;left:2861px;top:641.35px" width="16" height="20"><polyline points="3,3 10.5,10 3,17" fill="none" stroke="#2f55d4" stroke-width="2.2"/></svg>
<div class="clip" style="left:2854.3px;top:633.85px;width:213.0px;height:34.87px"><div style="position:absolute;left:37.40px;top:7.20px;font-size:17.8px;line-height:20.47px;color:#383b53;font-weight:normal;white-space:nowrap;transform:scaleX(0.955);transform-origin:left center;">Andy Reiter (9)</div></div>
<div style="position:absolute;left:3074.70px;top:641.05px;font-size:17.8px;line-height:20.47px;color:#383b53;font-weight:normal;white-space:nowrap;transform:scaleX(0.955);transform-origin:left center;">28,760,402</div>
<div class="clip" style="left:3282.4px;top:633.85px;width:51.29999999999973px;height:34.87px"><div style="position:absolute;left:6.40px;top:7.20px;font-size:17.8px;line-height:20.47px;color:#383b53;font-weight:normal;white-space:nowrap;transform:scaleX(0.955);transform-origin:left center;">Andy...</div></div>
<svg style="position:absolute;left:2861px;top:676.22px" width="16" height="20"><polyline points="3,3 10.5,10 3,17" fill="none" stroke="#2f55d4" stroke-width="2.2"/></svg>
<div class="clip" style="left:2854.3px;top:668.72px;width:213.0px;height:34.87px"><div style="position:absolute;left:37.40px;top:7.20px;font-size:17.8px;line-height:20.47px;color:#383b53;font-weight:normal;white-space:nowrap;transform:scaleX(0.955);transform-origin:left center;">Tom Boeckenhauer (17)</div></div>
<div style="position:absolute;left:3074.70px;top:675.92px;font-size:17.8px;line-height:20.47px;color:#383b53;font-weight:normal;white-space:nowrap;transform:scaleX(0.955);transform-origin:left center;">27,617,875</div>
<div class="clip" style="left:3282.4px;top:668.72px;width:51.29999999999973px;height:34.87px"><div style="position:absolute;left:6.40px;top:7.20px;font-size:17.8px;line-height:20.47px;color:#383b53;font-weight:normal;white-space:nowrap;transform:scaleX(0.955);transform-origin:left center;">Tom...</div></div>
</div>
<div style="position:absolute;left:3281.9px;top:417px;width:1px;height:275.4px;background:#e3e4ec"></div>
<div style="position:absolute;left:3069px;top:417px;width:212.9000000000001px;height:3px;background:#5aab9a"></div>
<div style="position:absolute;left:2862.60px;top:427.40px;font-size:17.8px;line-height:20.47px;color:#383b53;font-weight:normal;white-space:nowrap;transform:scaleX(0.955);transform-origin:left center;">Group</div>
<div style="position:absolute;left:3108.80px;top:427.40px;font-size:17.8px;line-height:20.47px;color:#383b53;font-weight:normal;white-space:nowrap;transform:scaleX(0.955);transform-origin:left center;">Profit</div>
<div class="clip" style="left:3282.4px;top:417px;width:51.29999999999973px;height:42.5px"><div style="position:absolute;left:8.90px;top:10.40px;font-size:17.8px;line-height:20.47px;color:#383b53;font-weight:normal;white-space:nowrap;transform:scaleX(0.955);transform-origin:left center;">Cus...</div></div>
<svg style="position:absolute;left:3078px;top:426px" width="24" height="22"><g stroke="#e8873a" fill="none" stroke-width="1.9"><line x1="6.8" y1="4.5" x2="6.8" y2="17.5"/><polyline points="4,15 6.8,18 9.6,15"/></g><text x="16.6" y="9.6" font-size="8.5" fill="#e8873a" text-anchor="middle" font-weight="bold">Z</text><text x="16.6" y="18.9" font-size="8.5" fill="#e8873a" text-anchor="middle" font-weight="bold">A</text></svg>
<div style="position:absolute;left:3258.5px;top:427.0px;width:4.4px;height:4.4px;background:#383b53;border-radius:50%"></div>
<div style="position:absolute;left:3258.5px;top:434.8px;width:4.4px;height:4.4px;background:#383b53;border-radius:50%"></div>
<div style="position:absolute;left:3258.5px;top:442.6px;width:4.4px;height:4.4px;background:#383b53;border-radius:50%"></div>
<div style="position:absolute;left:3067.3px;top:692.4px;width:250.69999999999982px;height:33.200000000000045px;background:#f5f5f7;border-bottom:1px solid #e4e5ec;box-sizing:border-box"></div>
<div style="position:absolute;left:3281.9px;top:692.4px;width:1px;height:33.200000000000045px;background:#e3e4ec"></div>
<div style="position:absolute;right:97.60px;top:697.40px;font-size:17.8px;line-height:20.47px;color:#383b53;font-weight:normal;white-space:nowrap;transform:scaleX(0.955);transform-origin:right center;">Sum: 380,121,856</div>
<div class="clip" style="left:3282.4px;top:692.4px;width:35.59999999999991px;height:33.200000000000045px"><div style="position:absolute;left:6.60px;top:5.00px;font-size:17.8px;line-height:20.47px;color:#383b53;font-weight:normal;white-space:nowrap;transform:scaleX(0.955);transform-origin:left center;">First: Raymond Buch</div></div>
<div style="position:absolute;left:3066.3px;top:417px;width:2px;height:308.6px;background:#a3a6ba"></div>
<div style="position:absolute;left:33px;top:1417px;width:3300.3px;height:42.5px;background:#eef0f8"></div>
<div style="position:absolute;left:33px;top:1459.5px;width:264.5px;height:332.5px;background:#eef0f8"></div>
<div style="position:absolute;left:33px;top:1458.5px;width:3300.3px;height:1.5px;background:#e1e3ec"></div>
<div class="clip" style="left:0;top:0;width:3374px;height:1758px">
<div style="position:absolute;left:770.9px;top:1460.0px;width:198.80000000000007px;height:33.75px;background:#b8bfee"></div>
<div style="position:absolute;left:33px;top:1493.75px;width:3300.3px;height:1px;background:rgba(205,208,222,0.5)"></div>
<div class="clip" style="left:33px;top:1459.5px;width:261.5px;height:34.75px"><div style="position:absolute;left:5.25px;top:7.90px;font-size:17.8px;line-height:20.47px;color:#383b53;font-weight:normal;white-space:nowrap;transform:scaleX(0.955);transform-origin:left center;">CA-2016-152156</div></div>
<div class="clip" style="left:297.5px;top:1459.5px;width:234.0px;height:34.75px"><div style="position:absolute;left:7.50px;top:7.90px;font-size:17.8px;line-height:20.47px;color:#383b53;font-weight:normal;white-space:nowrap;transform:scaleX(0.955);transform-origin:left center;">11/7/2022</div></div>
<div class="clip" style="left:534.5px;top:1459.5px;width:232.89999999999998px;height:34.75px"><div style="position:absolute;left:6.00px;top:7.90px;font-size:17.8px;line-height:20.47px;color:#383b53;font-weight:normal;white-space:nowrap;transform:scaleX(0.955);transform-origin:left center;">CG-12520</div></div>
<div style="position:absolute;right:2409.80px;top:1467.40px;font-size:17.8px;line-height:20.47px;color:#383b53;font-weight:normal;white-space:nowrap;transform:scaleX(0.955);transform-origin:right center;">$419,136</div>
<div class="clip" style="left:970.2px;top:1459.5px;width:235.20000000000005px;height:34.75px"><div style="position:absolute;left:6.00px;top:7.90px;font-size:17.8px;line-height:20.47px;color:#383b53;font-weight:normal;white-space:nowrap;transform:scaleX(0.955);transform-origin:left center;">Consumer</div></div>
<div class="clip" style="left:1208.4px;top:1459.5px;width:232.89999999999986px;height:34.75px"><div style="position:absolute;left:6.00px;top:7.90px;font-size:17.8px;line-height:20.47px;color:#383b53;font-weight:normal;white-space:nowrap;transform:scaleX(0.955);transform-origin:left center;">Henderson</div></div>
<div class="clip" style="left:1444.3px;top:1459.5px;width:233.20000000000005px;height:34.75px"><div style="position:absolute;left:6.00px;top:7.90px;font-size:17.8px;line-height:20.47px;color:#383b53;font-weight:normal;white-space:nowrap;transform:scaleX(0.955);transform-origin:left center;">Kentucky</div></div>
<div class="clip" style="left:1680.5px;top:1459.5px;width:232.79999999999995px;height:34.75px"><div style="position:absolute;left:6.00px;top:7.90px;font-size:17.8px;line-height:20.47px;color:#383b53;font-weight:normal;white-space:nowrap;transform:scaleX(0.955);transform-origin:left center;">FUR-BO-10001798</div></div>
<div class="clip" style="left:1916.3px;top:1459.5px;width:232.89999999999986px;height:34.75px"><div style="position:absolute;left:6.00px;top:7.90px;font-size:17.8px;line-height:20.47px;color:#383b53;font-weight:normal;white-space:nowrap;transform:scaleX(0.955);transform-origin:left center;">Bush Somerset Collection…</div></div>
<div class="clip" style="left:2152.2px;top:1459.5px;width:232.9000000000001px;height:34.75px"><div style="position:absolute;left:6.00px;top:7.90px;font-size:17.8px;line-height:20.47px;color:#383b53;font-weight:normal;white-space:nowrap;transform:scaleX(0.955);transform-origin:left center;">Furniture</div></div>
<div class="clip" style="left:2388.1px;top:1459.5px;width:233.4000000000001px;height:34.75px"><div style="position:absolute;left:6.00px;top:7.90px;font-size:17.8px;line-height:20.47px;color:#383b53;font-weight:normal;white-space:nowrap;transform:scaleX(0.955);transform-origin:left center;">Bookcases</div></div>
<div style="position:absolute;right:518.70px;top:1467.40px;font-size:17.8px;line-height:20.47px;color:#57a785;font-weight:normal;white-space:nowrap;transform:scaleX(0.955);transform-origin:right center;">+$26,196</div>
<div style="position:absolute;right:282.50px;top:1467.40px;font-size:17.8px;line-height:20.47px;color:#383b53;font-weight:normal;white-space:nowrap;transform:scaleX(0.955);transform-origin:right center;">2</div>
<div class="clip" style="left:3097.5px;top:1459.5px;width:232.80000000000018px;height:34.75px"><div style="position:absolute;left:6.00px;top:7.90px;font-size:17.8px;line-height:20.47px;color:#383b53;font-weight:normal;white-space:nowrap;transform:scaleX(0.955);transform-origin:left center;">Claire Gute</div></div>
<div style="position:absolute;left:770.9px;top:1494.75px;width:198.80000000000007px;height:33.75px;background:#dcdff6"></div>
<div style="position:absolute;left:33px;top:1528.5px;width:3300.3px;height:1px;background:rgba(205,208,222,0.5)"></div>
<div class="clip" style="left:33px;top:1494.25px;width:261.5px;height:34.75px"><div style="position:absolute;left:5.25px;top:7.90px;font-size:17.8px;line-height:20.47px;color:#383b53;font-weight:normal;white-space:nowrap;transform:scaleX(0.955);transform-origin:left center;">CA-2016-152156</div></div>
<div class="clip" style="left:297.5px;top:1494.25px;width:234.0px;height:34.75px"><div style="position:absolute;left:7.50px;top:7.90px;font-size:17.8px;line-height:20.47px;color:#383b53;font-weight:normal;white-space:nowrap;transform:scaleX(0.955);transform-origin:left center;">11/7/2022</div></div>
<div class="clip" style="left:534.5px;top:1494.25px;width:232.89999999999998px;height:34.75px"><div style="position:absolute;left:6.00px;top:7.90px;font-size:17.8px;line-height:20.47px;color:#383b53;font-weight:normal;white-space:nowrap;transform:scaleX(0.955);transform-origin:left center;">CG-12520</div></div>
<div style="position:absolute;right:2409.80px;top:1502.15px;font-size:17.8px;line-height:20.47px;color:#383b53;font-weight:normal;white-space:nowrap;transform:scaleX(0.955);transform-origin:right center;">$219,582</div>
<div class="clip" style="left:970.2px;top:1494.25px;width:235.20000000000005px;height:34.75px"><div style="position:absolute;left:6.00px;top:7.90px;font-size:17.8px;line-height:20.47px;color:#383b53;font-weight:normal;white-space:nowrap;transform:scaleX(0.955);transform-origin:left center;">Consumer</div></div>
<div class="clip" style="left:1208.4px;top:1494.25px;width:232.89999999999986px;height:34.75px"><div style="position:absolute;left:6.00px;top:7.90px;font-size:17.8px;line-height:20.47px;color:#383b53;font-weight:normal;white-space:nowrap;transform:scaleX(0.955);transform-origin:left center;">Henderson</div></div>
<div class="clip" style="left:1444.3px;top:1494.25px;width:233.20000000000005px;height:34.75px"><div style="position:absolute;left:6.00px;top:7.90px;font-size:17.8px;line-height:20.47px;color:#383b53;font-weight:normal;white-space:nowrap;transform:scaleX(0.955);transform-origin:left center;">Kentucky</div></div>
<div class="clip" style="left:1680.5px;top:1494.25px;width:232.79999999999995px;height:34.75px"><div style="position:absolute;left:6.00px;top:7.90px;font-size:17.8px;line-height:20.47px;color:#383b53;font-weight:normal;white-space:nowrap;transform:scaleX(0.955);transform-origin:left center;">FUR-CH-10000454</div></div>
<div class="clip" style="left:1916.3px;top:1494.25px;width:232.89999999999986px;height:34.75px"><div style="position:absolute;left:6.00px;top:7.90px;font-size:17.8px;line-height:20.47px;color:#383b53;font-weight:normal;white-space:nowrap;transform:scaleX(0.955);transform-origin:left center;">Hon Deluxe Fabric…</div></div>
<div class="clip" style="left:2152.2px;top:1494.25px;width:232.9000000000001px;height:34.75px"><div style="position:absolute;left:6.00px;top:7.90px;font-size:17.8px;line-height:20.47px;color:#383b53;font-weight:normal;white-space:nowrap;transform:scaleX(0.955);transform-origin:left center;">Furniture</div></div>
<div class="clip" style="left:2388.1px;top:1494.25px;width:233.4000000000001px;height:34.75px"><div style="position:absolute;left:6.00px;top:7.90px;font-size:17.8px;line-height:20.47px;color:#383b53;font-weight:normal;white-space:nowrap;transform:scaleX(0.955);transform-origin:left center;">Chairs</div></div>
<div style="position:absolute;right:518.70px;top:1502.15px;font-size:17.8px;line-height:20.47px;color:#57a785;font-weight:normal;white-space:nowrap;transform:scaleX(0.955);transform-origin:right center;">+$73,194</div>
<div style="position:absolute;right:282.50px;top:1502.15px;font-size:17.8px;line-height:20.47px;color:#383b53;font-weight:normal;white-space:nowrap;transform:scaleX(0.955);transform-origin:right center;">3</div>
<div class="clip" style="left:3097.5px;top:1494.25px;width:232.80000000000018px;height:34.75px"><div style="position:absolute;left:6.00px;top:7.90px;font-size:17.8px;line-height:20.47px;color:#383b53;font-weight:normal;white-space:nowrap;transform:scaleX(0.955);transform-origin:left center;">Claire Gute</div></div>
<div style="position:absolute;left:770.9px;top:1529.5px;width:198.80000000000007px;height:33.75px;background:#f3f3fc"></div>
<div style="position:absolute;left:33px;top:1563.25px;width:3300.3px;height:1px;background:rgba(205,208,222,0.5)"></div>
<div class="clip" style="left:33px;top:1529.0px;width:261.5px;height:34.75px"><div style="position:absolute;left:5.25px;top:7.90px;font-size:17.8px;line-height:20.47px;color:#383b53;font-weight:normal;white-space:nowrap;transform:scaleX(0.955);transform-origin:left center;">CA-2016-138688</div></div>
<div class="clip" style="left:297.5px;top:1529.0px;width:234.0px;height:34.75px"><div style="position:absolute;left:7.50px;top:7.90px;font-size:17.8px;line-height:20.47px;color:#383b53;font-weight:normal;white-space:nowrap;transform:scaleX(0.955);transform-origin:left center;">6/11/2022</div></div>
<div class="clip" style="left:534.5px;top:1529.0px;width:232.89999999999998px;height:34.75px"><div style="position:absolute;left:6.00px;top:7.90px;font-size:17.8px;line-height:20.47px;color:#383b53;font-weight:normal;white-space:nowrap;transform:scaleX(0.955);transform-origin:left center;">DV-13045</div></div>
<div style="position:absolute;right:2409.80px;top:1536.90px;font-size:17.8px;line-height:20.47px;color:#383b53;font-weight:normal;white-space:nowrap;transform:scaleX(0.955);transform-origin:right center;">$68,714</div>
<div class="clip" style="left:970.2px;top:1529.0px;width:235.20000000000005px;height:34.75px"><div style="position:absolute;left:6.00px;top:7.90px;font-size:17.8px;line-height:20.47px;color:#383b53;font-weight:normal;white-space:nowrap;transform:scaleX(0.955);transform-origin:left center;">Corporate</div></div>
<div class="clip" style="left:1208.4px;top:1529.0px;width:232.89999999999986px;height:34.75px"><div style="position:absolute;left:6.00px;top:7.90px;font-size:17.8px;line-height:20.47px;color:#383b53;font-weight:normal;white-space:nowrap;transform:scaleX(0.955);transform-origin:left center;">Los Angeles</div></div>
<div class="clip" style="left:1444.3px;top:1529.0px;width:233.20000000000005px;height:34.75px"><div style="position:absolute;left:6.00px;top:7.90px;font-size:17.8px;line-height:20.47px;color:#383b53;font-weight:normal;white-space:nowrap;transform:scaleX(0.955);transform-origin:left center;">California</div></div>
<div class="clip" style="left:1680.5px;top:1529.0px;width:232.79999999999995px;height:34.75px"><div style="position:absolute;left:6.00px;top:7.90px;font-size:17.8px;line-height:20.47px;color:#383b53;font-weight:normal;white-space:nowrap;transform:scaleX(0.955);transform-origin:left center;">OFF-LA-10000240</div></div>
<div class="clip" style="left:1916.3px;top:1529.0px;width:232.89999999999986px;height:34.75px"><div style="position:absolute;left:6.00px;top:7.90px;font-size:17.8px;line-height:20.47px;color:#383b53;font-weight:normal;white-space:nowrap;transform:scaleX(0.955);transform-origin:left center;">Self-Adhesive Address…</div></div>
<div class="clip" style="left:2152.2px;top:1529.0px;width:232.9000000000001px;height:34.75px"><div style="position:absolute;left:6.00px;top:7.90px;font-size:17.8px;line-height:20.47px;color:#383b53;font-weight:normal;white-space:nowrap;transform:scaleX(0.955);transform-origin:left center;">Office Supplies</div></div>
<div class="clip" style="left:2388.1px;top:1529.0px;width:233.4000000000001px;height:34.75px"><div style="position:absolute;left:6.00px;top:7.90px;font-size:17.8px;line-height:20.47px;color:#383b53;font-weight:normal;white-space:nowrap;transform:scaleX(0.955);transform-origin:left center;">Labels</div></div>
<div style="position:absolute;right:518.70px;top:1536.90px;font-size:17.8px;line-height:20.47px;color:#57a785;font-weight:normal;white-space:nowrap;transform:scaleX(0.955);transform-origin:right center;">+$1,462</div>
<div style="position:absolute;right:282.50px;top:1536.90px;font-size:17.8px;line-height:20.47px;color:#383b53;font-weight:normal;white-space:nowrap;transform:scaleX(0.955);transform-origin:right center;">2</div>
<div class="clip" style="left:3097.5px;top:1529.0px;width:232.80000000000018px;height:34.75px"><div style="position:absolute;left:6.00px;top:7.90px;font-size:17.8px;line-height:20.47px;color:#383b53;font-weight:normal;white-space:nowrap;transform:scaleX(0.955);transform-origin:left center;">Darrin Van Huff</div></div>
<div style="position:absolute;left:770.9px;top:1564.25px;width:198.80000000000007px;height:33.75px;background:#e8e9f8"></div>
<div style="position:absolute;left:33px;top:1598.0px;width:3300.3px;height:1px;background:rgba(205,208,222,0.5)"></div>
<div class="clip" style="left:33px;top:1563.75px;width:261.5px;height:34.75px"><div style="position:absolute;left:5.25px;top:7.90px;font-size:17.8px;line-height:20.47px;color:#383b53;font-weight:normal;white-space:nowrap;transform:scaleX(0.955);transform-origin:left center;">CA-2014-115812</div></div>
<div class="clip" style="left:297.5px;top:1563.75px;width:234.0px;height:34.75px"><div style="position:absolute;left:7.50px;top:7.90px;font-size:17.8px;line-height:20.47px;color:#383b53;font-weight:normal;white-space:nowrap;transform:scaleX(0.955);transform-origin:left center;">6/7/2020</div></div>
<div class="clip" style="left:534.5px;top:1563.75px;width:232.89999999999998px;height:34.75px"><div style="position:absolute;left:6.00px;top:7.90px;font-size:17.8px;line-height:20.47px;color:#383b53;font-weight:normal;white-space:nowrap;transform:scaleX(0.955);transform-origin:left center;">BH-11710</div></div>
<div style="position:absolute;right:2409.80px;top:1571.65px;font-size:17.8px;line-height:20.47px;color:#383b53;font-weight:normal;white-space:nowrap;transform:scaleX(0.955);transform-origin:right center;">$141,694</div>
<div class="clip" style="left:970.2px;top:1563.75px;width:235.20000000000005px;height:34.75px"><div style="position:absolute;left:6.00px;top:7.90px;font-size:17.8px;line-height:20.47px;color:#383b53;font-weight:normal;white-space:nowrap;transform:scaleX(0.955);transform-origin:left center;">Consumer</div></div>
<div class="clip" style="left:1208.4px;top:1563.75px;width:232.89999999999986px;height:34.75px"><div style="position:absolute;left:6.00px;top:7.90px;font-size:17.8px;line-height:20.47px;color:#383b53;font-weight:normal;white-space:nowrap;transform:scaleX(0.955);transform-origin:left center;">Los Angeles</div></div>
<div class="clip" style="left:1444.3px;top:1563.75px;width:233.20000000000005px;height:34.75px"><div style="position:absolute;left:6.00px;top:7.90px;font-size:17.8px;line-height:20.47px;color:#383b53;font-weight:normal;white-space:nowrap;transform:scaleX(0.955);transform-origin:left center;">California</div></div>
<div class="clip" style="left:1680.5px;top:1563.75px;width:232.79999999999995px;height:34.75px"><div style="position:absolute;left:6.00px;top:7.90px;font-size:17.8px;line-height:20.47px;color:#383b53;font-weight:normal;white-space:nowrap;transform:scaleX(0.955);transform-origin:left center;">FUR-FU-10001487</div></div>
<div class="clip" style="left:1916.3px;top:1563.75px;width:232.89999999999986px;height:34.75px"><div style="position:absolute;left:6.00px;top:7.90px;font-size:17.8px;line-height:20.47px;color:#383b53;font-weight:normal;white-space:nowrap;transform:scaleX(0.955);transform-origin:left center;">Eldon Expressions Wood a…</div></div>
<div class="clip" style="left:2152.2px;top:1563.75px;width:232.9000000000001px;height:34.75px"><div style="position:absolute;left:6.00px;top:7.90px;font-size:17.8px;line-height:20.47px;color:#383b53;font-weight:normal;white-space:nowrap;transform:scaleX(0.955);transform-origin:left center;">Furniture</div></div>
<div class="clip" style="left:2388.1px;top:1563.75px;width:233.4000000000001px;height:34.75px"><div style="position:absolute;left:6.00px;top:7.90px;font-size:17.8px;line-height:20.47px;color:#383b53;font-weight:normal;white-space:nowrap;transform:scaleX(0.955);transform-origin:left center;">Furnishings</div></div>
<div style="position:absolute;right:518.70px;top:1571.65px;font-size:17.8px;line-height:20.47px;color:#57a785;font-weight:normal;white-space:nowrap;transform:scaleX(0.955);transform-origin:right center;">+$4,886</div>
<div style="position:absolute;right:282.50px;top:1571.65px;font-size:17.8px;line-height:20.47px;color:#383b53;font-weight:normal;white-space:nowrap;transform:scaleX(0.955);transform-origin:right center;">7</div>
<div class="clip" style="left:3097.5px;top:1563.75px;width:232.80000000000018px;height:34.75px"><div style="position:absolute;left:6.00px;top:7.90px;font-size:17.8px;line-height:20.47px;color:#383b53;font-weight:normal;white-space:nowrap;transform:scaleX(0.955);transform-origin:left center;">Brosina Hoffman</div></div>
<div style="position:absolute;left:770.9px;top:1599.0px;width:198.80000000000007px;height:33.75px;background:#f9f9fd"></div>
<div style="position:absolute;left:33px;top:1632.75px;width:3300.3px;height:1px;background:rgba(205,208,222,0.5)"></div>
<div class="clip" style="left:33px;top:1598.5px;width:261.5px;height:34.75px"><div style="position:absolute;left:5.25px;top:7.90px;font-size:17.8px;line-height:20.47px;color:#383b53;font-weight:normal;white-space:nowrap;transform:scaleX(0.955);transform-origin:left center;">CA-2014-115812</div></div>
<div class="clip" style="left:297.5px;top:1598.5px;width:234.0px;height:34.75px"><div style="position:absolute;left:7.50px;top:7.90px;font-size:17.8px;line-height:20.47px;color:#383b53;font-weight:normal;white-space:nowrap;transform:scaleX(0.955);transform-origin:left center;">6/7/2020</div></div>
<div class="clip" style="left:534.5px;top:1598.5px;width:232.89999999999998px;height:34.75px"><div style="position:absolute;left:6.00px;top:7.90px;font-size:17.8px;line-height:20.47px;color:#383b53;font-weight:normal;white-space:nowrap;transform:scaleX(0.955);transform-origin:left center;">BH-11710</div></div>
<div style="position:absolute;right:2409.80px;top:1606.40px;font-size:17.8px;line-height:20.47px;color:#383b53;font-weight:normal;white-space:nowrap;transform:scaleX(0.955);transform-origin:right center;">$19,656</div>
<div class="clip" style="left:970.2px;top:1598.5px;width:235.20000000000005px;height:34.75px"><div style="position:absolute;left:6.00px;top:7.90px;font-size:17.8px;line-height:20.47px;color:#383b53;font-weight:normal;white-space:nowrap;transform:scaleX(0.955);transform-origin:left center;">Consumer</div></div>
<div class="clip" style="left:1208.4px;top:1598.5px;width:232.89999999999986px;height:34.75px"><div style="position:absolute;left:6.00px;top:7.90px;font-size:17.8px;line-height:20.47px;color:#383b53;font-weight:normal;white-space:nowrap;transform:scaleX(0.955);transform-origin:left center;">Los Angeles</div></div>
<div class="clip" style="left:1444.3px;top:1598.5px;width:233.20000000000005px;height:34.75px"><div style="position:absolute;left:6.00px;top:7.90px;font-size:17.8px;line-height:20.47px;color:#383b53;font-weight:normal;white-space:nowrap;transform:scaleX(0.955);transform-origin:left center;">California</div></div>
<div class="clip" style="left:1680.5px;top:1598.5px;width:232.79999999999995px;height:34.75px"><div style="position:absolute;left:6.00px;top:7.90px;font-size:17.8px;line-height:20.47px;color:#383b53;font-weight:normal;white-space:nowrap;transform:scaleX(0.955);transform-origin:left center;">OFF-AR-10002833</div></div>
<div class="clip" style="left:1916.3px;top:1598.5px;width:232.89999999999986px;height:34.75px"><div style="position:absolute;left:6.00px;top:7.90px;font-size:17.8px;line-height:20.47px;color:#383b53;font-weight:normal;white-space:nowrap;transform:scaleX(0.955);transform-origin:left center;">Newell 322</div></div>
<div class="clip" style="left:2152.2px;top:1598.5px;width:232.9000000000001px;height:34.75px"><div style="position:absolute;left:6.00px;top:7.90px;font-size:17.8px;line-height:20.47px;color:#383b53;font-weight:normal;white-space:nowrap;transform:scaleX(0.955);transform-origin:left center;">Office Supplies</div></div>
<div class="clip" style="left:2388.1px;top:1598.5px;width:233.4000000000001px;height:34.75px"><div style="position:absolute;left:6.00px;top:7.90px;font-size:17.8px;line-height:20.47px;color:#383b53;font-weight:normal;white-space:nowrap;transform:scaleX(0.955);transform-origin:left center;">Art</div></div>
<div style="position:absolute;right:518.70px;top:1606.40px;font-size:17.8px;line-height:20.47px;color:#57a785;font-weight:normal;white-space:nowrap;transform:scaleX(0.955);transform-origin:right center;">+$728</div>
<div style="position:absolute;right:282.50px;top:1606.40px;font-size:17.8px;line-height:20.47px;color:#383b53;font-weight:normal;white-space:nowrap;transform:scaleX(0.955);transform-origin:right center;">4</div>
<div class="clip" style="left:3097.5px;top:1598.5px;width:232.80000000000018px;height:34.75px"><div style="position:absolute;left:6.00px;top:7.90px;font-size:17.8px;line-height:20.47px;color:#383b53;font-weight:normal;white-space:nowrap;transform:scaleX(0.955);transform-origin:left center;">Brosina Hoffman</div></div>
<div style="position:absolute;left:770.9px;top:1633.75px;width:198.80000000000007px;height:33.75px;background:#6b7ad8"></div>
<div style="position:absolute;left:33px;top:1667.5px;width:3300.3px;height:1px;background:rgba(205,208,222,0.5)"></div>
<div class="clip" style="left:33px;top:1633.25px;width:261.5px;height:34.75px"><div style="position:absolute;left:5.25px;top:7.90px;font-size:17.8px;line-height:20.47px;color:#383b53;font-weight:normal;white-space:nowrap;transform:scaleX(0.955);transform-origin:left center;">CA-2014-115812</div></div>
<div class="clip" style="left:297.5px;top:1633.25px;width:234.0px;height:34.75px"><div style="position:absolute;left:7.50px;top:7.90px;font-size:17.8px;line-height:20.47px;color:#383b53;font-weight:normal;white-space:nowrap;transform:scaleX(0.955);transform-origin:left center;">6/7/2020</div></div>
<div class="clip" style="left:534.5px;top:1633.25px;width:232.89999999999998px;height:34.75px"><div style="position:absolute;left:6.00px;top:7.90px;font-size:17.8px;line-height:20.47px;color:#383b53;font-weight:normal;white-space:nowrap;transform:scaleX(0.955);transform-origin:left center;">BH-11710</div></div>
<div style="position:absolute;right:2409.80px;top:1641.15px;font-size:17.8px;line-height:20.47px;color:#383b53;font-weight:normal;white-space:nowrap;transform:scaleX(0.955);transform-origin:right center;">$907,152</div>
<div class="clip" style="left:970.2px;top:1633.25px;width:235.20000000000005px;height:34.75px"><div style="position:absolute;left:6.00px;top:7.90px;font-size:17.8px;line-height:20.47px;color:#383b53;font-weight:normal;white-space:nowrap;transform:scaleX(0.955);transform-origin:left center;">Consumer</div></div>
<div class="clip" style="left:1208.4px;top:1633.25px;width:232.89999999999986px;height:34.75px"><div style="position:absolute;left:6.00px;top:7.90px;font-size:17.8px;line-height:20.47px;color:#383b53;font-weight:normal;white-space:nowrap;transform:scaleX(0.955);transform-origin:left center;">Los Angeles</div></div>
<div class="clip" style="left:1444.3px;top:1633.25px;width:233.20000000000005px;height:34.75px"><div style="position:absolute;left:6.00px;top:7.90px;font-size:17.8px;line-height:20.47px;color:#383b53;font-weight:normal;white-space:nowrap;transform:scaleX(0.955);transform-origin:left center;">California</div></div>
<div class="clip" style="left:1680.5px;top:1633.25px;width:232.79999999999995px;height:34.75px"><div style="position:absolute;left:6.00px;top:7.90px;font-size:17.8px;line-height:20.47px;color:#383b53;font-weight:normal;white-space:nowrap;transform:scaleX(0.955);transform-origin:left center;">TEC-PH-10002275</div></div>
<div class="clip" style="left:1916.3px;top:1633.25px;width:232.89999999999986px;height:34.75px"><div style="position:absolute;left:6.00px;top:7.90px;font-size:17.8px;line-height:20.47px;color:#383b53;font-weight:normal;white-space:nowrap;transform:scaleX(0.955);transform-origin:left center;">Mitel 5320 IP Phone VoIP…</div></div>
<div class="clip" style="left:2152.2px;top:1633.25px;width:232.9000000000001px;height:34.75px"><div style="position:absolute;left:6.00px;top:7.90px;font-size:17.8px;line-height:20.47px;color:#383b53;font-weight:normal;white-space:nowrap;transform:scaleX(0.955);transform-origin:left center;">Technology</div></div>
<div class="clip" style="left:2388.1px;top:1633.25px;width:233.4000000000001px;height:34.75px"><div style="position:absolute;left:6.00px;top:7.90px;font-size:17.8px;line-height:20.47px;color:#383b53;font-weight:normal;white-space:nowrap;transform:scaleX(0.955);transform-origin:left center;">Phones</div></div>
<div style="position:absolute;right:518.70px;top:1641.15px;font-size:17.8px;line-height:20.47px;color:#57a785;font-weight:normal;white-space:nowrap;transform:scaleX(0.955);transform-origin:right center;">+$907,152</div>
<div style="position:absolute;right:282.50px;top:1641.15px;font-size:17.8px;line-height:20.47px;color:#383b53;font-weight:normal;white-space:nowrap;transform:scaleX(0.955);transform-origin:right center;">6</div>
<div class="clip" style="left:3097.5px;top:1633.25px;width:232.80000000000018px;height:34.75px"><div style="position:absolute;left:6.00px;top:7.90px;font-size:17.8px;line-height:20.47px;color:#383b53;font-weight:normal;white-space:nowrap;transform:scaleX(0.955);transform-origin:left center;">Brosina Hoffman</div></div>
<div style="position:absolute;left:770.9px;top:1668.5px;width:198.80000000000007px;height:33.75px;background:#f5f5fc"></div>
<div style="position:absolute;left:33px;top:1702.25px;width:3300.3px;height:1px;background:rgba(205,208,222,0.5)"></div>
<div class="clip" style="left:33px;top:1668.0px;width:261.5px;height:34.75px"><div style="position:absolute;left:5.25px;top:7.90px;font-size:17.8px;line-height:20.47px;color:#383b53;font-weight:normal;white-space:nowrap;transform:scaleX(0.955);transform-origin:left center;">CA-2014-115812</div></div>
<div class="clip" style="left:297.5px;top:1668.0px;width:234.0px;height:34.75px"><div style="position:absolute;left:7.50px;top:7.90px;font-size:17.8px;line-height:20.47px;color:#383b53;font-weight:normal;white-space:nowrap;transform:scaleX(0.955);transform-origin:left center;">6/7/2020</div></div>
<div class="clip" style="left:534.5px;top:1668.0px;width:232.89999999999998px;height:34.75px"><div style="position:absolute;left:6.00px;top:7.90px;font-size:17.8px;line-height:20.47px;color:#383b53;font-weight:normal;white-space:nowrap;transform:scaleX(0.955);transform-origin:left center;">BH-11710</div></div>
<div style="position:absolute;right:2409.80px;top:1675.90px;font-size:17.8px;line-height:20.47px;color:#383b53;font-weight:normal;white-space:nowrap;transform:scaleX(0.955);transform-origin:right center;">$57,825</div>
<div class="clip" style="left:970.2px;top:1668.0px;width:235.20000000000005px;height:34.75px"><div style="position:absolute;left:6.00px;top:7.90px;font-size:17.8px;line-height:20.47px;color:#383b53;font-weight:normal;white-space:nowrap;transform:scaleX(0.955);transform-origin:left center;">Consumer</div></div>
<div class="clip" style="left:1208.4px;top:1668.0px;width:232.89999999999986px;height:34.75px"><div style="position:absolute;left:6.00px;top:7.90px;font-size:17.8px;line-height:20.47px;color:#383b53;font-weight:normal;white-space:nowrap;transform:scaleX(0.955);transform-origin:left center;">Los Angeles</div></div>
<div class="clip" style="left:1444.3px;top:1668.0px;width:233.20000000000005px;height:34.75px"><div style="position:absolute;left:6.00px;top:7.90px;font-size:17.8px;line-height:20.47px;color:#383b53;font-weight:normal;white-space:nowrap;transform:scaleX(0.955);transform-origin:left center;">California</div></div>
<div class="clip" style="left:1680.5px;top:1668.0px;width:232.79999999999995px;height:34.75px"><div style="position:absolute;left:6.00px;top:7.90px;font-size:17.8px;line-height:20.47px;color:#383b53;font-weight:normal;white-space:nowrap;transform:scaleX(0.955);transform-origin:left center;">OFF-BI-10003910</div></div>
<div class="clip" style="left:1916.3px;top:1668.0px;width:232.89999999999986px;height:34.75px"><div style="position:absolute;left:6.00px;top:7.90px;font-size:17.8px;line-height:20.47px;color:#383b53;font-weight:normal;white-space:nowrap;transform:scaleX(0.955);transform-origin:left center;">DXL Angle-View Binders wit…</div></div>
<div class="clip" style="left:2152.2px;top:1668.0px;width:232.9000000000001px;height:34.75px"><div style="position:absolute;left:6.00px;top:7.90px;font-size:17.8px;line-height:20.47px;color:#383b53;font-weight:normal;white-space:nowrap;transform:scaleX(0.955);transform-origin:left center;">Office Supplies</div></div>
<div class="clip" style="left:2388.1px;top:1668.0px;width:233.4000000000001px;height:34.75px"><div style="position:absolute;left:6.00px;top:7.90px;font-size:17.8px;line-height:20.47px;color:#383b53;font-weight:normal;white-space:nowrap;transform:scaleX(0.955);transform-origin:left center;">Binders</div></div>
<div style="position:absolute;right:518.70px;top:1675.90px;font-size:17.8px;line-height:20.47px;color:#57a785;font-weight:normal;white-space:nowrap;transform:scaleX(0.955);transform-origin:right center;">+$18,504</div>
<div style="position:absolute;right:282.50px;top:1675.90px;font-size:17.8px;line-height:20.47px;color:#383b53;font-weight:normal;white-space:nowrap;transform:scaleX(0.955);transform-origin:right center;">3</div>
<div class="clip" style="left:3097.5px;top:1668.0px;width:232.80000000000018px;height:34.75px"><div style="position:absolute;left:6.00px;top:7.90px;font-size:17.8px;line-height:20.47px;color:#383b53;font-weight:normal;white-space:nowrap;transform:scaleX(0.955);transform-origin:left center;">Brosina Hoffman</div></div>
<div style="position:absolute;left:770.9px;top:1703.25px;width:198.80000000000007px;height:33.75px;background:#ffffff"></div>
<div style="position:absolute;left:33px;top:1737.0px;width:3300.3px;height:1px;background:rgba(205,208,222,0.5)"></div>
<div class="clip" style="left:33px;top:1702.75px;width:261.5px;height:34.75px"><div style="position:absolute;left:5.25px;top:7.90px;font-size:17.8px;line-height:20.47px;color:#383b53;font-weight:normal;white-space:nowrap;transform:scaleX(0.955);transform-origin:left center;">CA-2014-115812</div></div>
<div class="clip" style="left:297.5px;top:1702.75px;width:234.0px;height:34.75px"><div style="position:absolute;left:7.50px;top:7.90px;font-size:17.8px;line-height:20.47px;color:#383b53;font-weight:normal;white-space:nowrap;transform:scaleX(0.955);transform-origin:left center;">6/7/2020</div></div>
<div class="clip" style="left:534.5px;top:1702.75px;width:232.89999999999998px;height:34.75px"><div style="position:absolute;left:6.00px;top:7.90px;font-size:17.8px;line-height:20.47px;color:#383b53;font-weight:normal;white-space:nowrap;transform:scaleX(0.955);transform-origin:left center;">BH-11710</div></div>
<div style="position:absolute;right:2409.80px;top:1710.65px;font-size:17.8px;line-height:20.47px;color:#383b53;font-weight:normal;white-space:nowrap;transform:scaleX(0.955);transform-origin:right center;">$3,447</div>
<div class="clip" style="left:970.2px;top:1702.75px;width:235.20000000000005px;height:34.75px"><div style="position:absolute;left:6.00px;top:7.90px;font-size:17.8px;line-height:20.47px;color:#383b53;font-weight:normal;white-space:nowrap;transform:scaleX(0.955);transform-origin:left center;">Consumer</div></div>
<div class="clip" style="left:1208.4px;top:1702.75px;width:232.89999999999986px;height:34.75px"><div style="position:absolute;left:6.00px;top:7.90px;font-size:17.8px;line-height:20.47px;color:#383b53;font-weight:normal;white-space:nowrap;transform:scaleX(0.955);transform-origin:left center;">Los Angeles</div></div>
<div class="clip" style="left:1444.3px;top:1702.75px;width:233.20000000000005px;height:34.75px"><div style="position:absolute;left:6.00px;top:7.90px;font-size:17.8px;line-height:20.47px;color:#383b53;font-weight:normal;white-space:nowrap;transform:scaleX(0.955);transform-origin:left center;">California</div></div>
<div class="clip" style="left:1680.5px;top:1702.75px;width:232.79999999999995px;height:34.75px"><div style="position:absolute;left:6.00px;top:7.90px;font-size:17.8px;line-height:20.47px;color:#383b53;font-weight:normal;white-space:nowrap;transform:scaleX(0.955);transform-origin:left center;">OFF-AP-10002892</div></div>
<div class="clip" style="left:1916.3px;top:1702.75px;width:232.89999999999986px;height:34.75px"><div style="position:absolute;left:6.00px;top:7.90px;font-size:17.8px;line-height:20.47px;color:#383b53;font-weight:normal;white-space:nowrap;transform:scaleX(0.955);transform-origin:left center;">Belkin F5C206VTEL 6 Outle…</div></div>
<div class="clip" style="left:2152.2px;top:1702.75px;width:232.9000000000001px;height:34.75px"><div style="position:absolute;left:6.00px;top:7.90px;font-size:17.8px;line-height:20.47px;color:#383b53;font-weight:normal;white-space:nowrap;transform:scaleX(0.955);transform-origin:left center;">Office Supplies</div></div>
<div class="clip" style="left:2388.1px;top:1702.75px;width:233.4000000000001px;height:34.75px"><div style="position:absolute;left:6.00px;top:7.90px;font-size:17.8px;line-height:20.47px;color:#383b53;font-weight:normal;white-space:nowrap;transform:scaleX(0.955);transform-origin:left center;">Appliances</div></div>
<div style="position:absolute;right:518.70px;top:1710.65px;font-size:17.8px;line-height:20.47px;color:#57a785;font-weight:normal;white-space:nowrap;transform:scaleX(0.955);transform-origin:right center;">+$1,149</div>
<div style="position:absolute;right:282.50px;top:1710.65px;font-size:17.8px;line-height:20.47px;color:#383b53;font-weight:normal;white-space:nowrap;transform:scaleX(0.955);transform-origin:right center;">5</div>
<div class="clip" style="left:3097.5px;top:1702.75px;width:232.80000000000018px;height:34.75px"><div style="position:absolute;left:6.00px;top:7.90px;font-size:17.8px;line-height:20.47px;color:#383b53;font-weight:normal;white-space:nowrap;transform:scaleX(0.955);transform-origin:left center;">Brosina Hoffman</div></div>
<div style="position:absolute;left:770.9px;top:1738.0px;width:198.80000000000007px;height:33.75px;background:#7381dc"></div>
<div style="position:absolute;left:33px;top:1771.75px;width:3300.3px;height:1px;background:rgba(205,208,222,0.5)"></div>
<div class="clip" style="left:33px;top:1737.5px;width:261.5px;height:34.75px"><div style="position:absolute;left:5.25px;top:7.90px;font-size:17.8px;line-height:20.47px;color:#383b53;font-weight:normal;white-space:nowrap;transform:scaleX(0.955);transform-origin:left center;">CA-2014-115812</div></div>
<div class="clip" style="left:297.5px;top:1737.5px;width:234.0px;height:34.75px"><div style="position:absolute;left:7.50px;top:7.90px;font-size:17.8px;line-height:20.47px;color:#383b53;font-weight:normal;white-space:nowrap;transform:scaleX(0.955);transform-origin:left center;">6/7/2020</div></div>
<div class="clip" style="left:534.5px;top:1737.5px;width:232.89999999999998px;height:34.75px"><div style="position:absolute;left:6.00px;top:7.90px;font-size:17.8px;line-height:20.47px;color:#383b53;font-weight:normal;white-space:nowrap;transform:scaleX(0.955);transform-origin:left center;">BH-11710</div></div>
<div style="position:absolute;right:2409.80px;top:1745.40px;font-size:17.8px;line-height:20.47px;color:#383b53;font-weight:normal;white-space:nowrap;transform:scaleX(0.955);transform-origin:right center;">$853,092</div>
<div class="clip" style="left:970.2px;top:1737.5px;width:235.20000000000005px;height:34.75px"><div style="position:absolute;left:6.00px;top:7.90px;font-size:17.8px;line-height:20.47px;color:#383b53;font-weight:normal;white-space:nowrap;transform:scaleX(0.955);transform-origin:left center;">Consumer</div></div>
<div class="clip" style="left:1208.4px;top:1737.5px;width:232.89999999999986px;height:34.75px"><div style="position:absolute;left:6.00px;top:7.90px;font-size:17.8px;line-height:20.47px;color:#383b53;font-weight:normal;white-space:nowrap;transform:scaleX(0.955);transform-origin:left center;">Los Angeles</div></div>
<div class="clip" style="left:1444.3px;top:1737.5px;width:233.20000000000005px;height:34.75px"><div style="position:absolute;left:6.00px;top:7.90px;font-size:17.8px;line-height:20.47px;color:#383b53;font-weight:normal;white-space:nowrap;transform:scaleX(0.955);transform-origin:left center;">California</div></div>
<div class="clip" style="left:1680.5px;top:1737.5px;width:232.79999999999995px;height:34.75px"><div style="position:absolute;left:6.00px;top:7.90px;font-size:17.8px;line-height:20.47px;color:#383b53;font-weight:normal;white-space:nowrap;transform:scaleX(0.955);transform-origin:left center;">FUR-TA-10001539</div></div>
<div class="clip" style="left:1916.3px;top:1737.5px;width:232.89999999999986px;height:34.75px"><div style="position:absolute;left:6.00px;top:7.90px;font-size:17.8px;line-height:20.47px;color:#383b53;font-weight:normal;white-space:nowrap;transform:scaleX(0.955);transform-origin:left center;">Chromcraft Rectangular</div></div>
<div class="clip" style="left:2152.2px;top:1737.5px;width:232.9000000000001px;height:34.75px"><div style="position:absolute;left:6.00px;top:7.90px;font-size:17.8px;line-height:20.47px;color:#383b53;font-weight:normal;white-space:nowrap;transform:scaleX(0.955);transform-origin:left center;">Furniture</div></div>
<div class="clip" style="left:2388.1px;top:1737.5px;width:233.4000000000001px;height:34.75px"><div style="position:absolute;left:6.00px;top:7.90px;font-size:17.8px;line-height:20.47px;color:#383b53;font-weight:normal;white-space:nowrap;transform:scaleX(0.955);transform-origin:left center;">Tables</div></div>
<div style="position:absolute;right:518.70px;top:1745.40px;font-size:17.8px;line-height:20.47px;color:#57a785;font-weight:normal;white-space:nowrap;transform:scaleX(0.955);transform-origin:right center;">+$1,706,184</div>
<div style="position:absolute;right:282.50px;top:1745.40px;font-size:17.8px;line-height:20.47px;color:#383b53;font-weight:normal;white-space:nowrap;transform:scaleX(0.955);transform-origin:right center;">9</div>
<div class="clip" style="left:3097.5px;top:1737.5px;width:232.80000000000018px;height:34.75px"><div style="position:absolute;left:6.00px;top:7.90px;font-size:17.8px;line-height:20.47px;color:#383b53;font-weight:normal;white-space:nowrap;transform:scaleX(0.955);transform-origin:left center;">Brosina Hoffman</div></div>
</div>
<div style="position:absolute;left:534.0px;top:1417px;width:1px;height:375px;background:#e3e4ec"></div>
<div style="position:absolute;left:769.9px;top:1417px;width:1px;height:375px;background:#e3e4ec"></div>
<div style="position:absolute;left:969.7px;top:1417px;width:1px;height:375px;background:#e3e4ec"></div>
<div style="position:absolute;left:1207.9px;top:1417px;width:1px;height:375px;background:#e3e4ec"></div>
<div style="position:absolute;left:1443.8px;top:1417px;width:1px;height:375px;background:#e3e4ec"></div>
<div style="position:absolute;left:1680.0px;top:1417px;width:1px;height:375px;background:#e3e4ec"></div>
<div style="position:absolute;left:1915.8px;top:1417px;width:1px;height:375px;background:#e3e4ec"></div>
<div style="position:absolute;left:2151.7px;top:1417px;width:1px;height:375px;background:#e3e4ec"></div>
<div style="position:absolute;left:2387.6px;top:1417px;width:1px;height:375px;background:#e3e4ec"></div>
<div style="position:absolute;left:2624.0px;top:1417px;width:1px;height:375px;background:#e3e4ec"></div>
<div style="position:absolute;left:2860.8px;top:1417px;width:1px;height:375px;background:#e3e4ec"></div>
<div style="position:absolute;left:3097.0px;top:1417px;width:1px;height:375px;background:#e3e4ec"></div>
<div style="position:absolute;left:40.80px;top:1426.90px;font-size:17.8px;line-height:20.47px;color:#383b53;font-weight:normal;white-space:nowrap;transform:scaleX(0.955);transform-origin:left center;">Order ID</div>
<div style="position:absolute;left:274.8px;top:1428.0px;width:4.4px;height:4.4px;background:#383b53;border-radius:50%"></div>
<div style="position:absolute;left:274.8px;top:1435.0px;width:4.4px;height:4.4px;background:#383b53;border-radius:50%"></div>
<div style="position:absolute;left:274.8px;top:1442.0px;width:4.4px;height:4.4px;background:#383b53;border-radius:50%"></div>
<div style="position:absolute;left:305.30px;top:1426.90px;font-size:17.8px;line-height:20.47px;color:#383b53;font-weight:normal;white-space:nowrap;transform:scaleX(0.955);transform-origin:left center;">Order Date</div>
<div style="position:absolute;left:511.8px;top:1428.0px;width:4.4px;height:4.4px;background:#383b53;border-radius:50%"></div>
<div style="position:absolute;left:511.8px;top:1435.0px;width:4.4px;height:4.4px;background:#383b53;border-radius:50%"></div>
<div style="position:absolute;left:511.8px;top:1442.0px;width:4.4px;height:4.4px;background:#383b53;border-radius:50%"></div>
<div style="position:absolute;left:542.30px;top:1426.90px;font-size:17.8px;line-height:20.47px;color:#383b53;font-weight:normal;white-space:nowrap;transform:scaleX(0.955);transform-origin:left center;">Customer ID</div>
<div style="position:absolute;left:747.6999999999999px;top:1428.0px;width:4.4px;height:4.4px;background:#383b53;border-radius:50%"></div>
<div style="position:absolute;left:747.6999999999999px;top:1435.0px;width:4.4px;height:4.4px;background:#383b53;border-radius:50%"></div>
<div style="position:absolute;left:747.6999999999999px;top:1442.0px;width:4.4px;height:4.4px;background:#383b53;border-radius:50%"></div>
<div style="position:absolute;left:778.20px;top:1426.90px;font-size:17.8px;line-height:20.47px;color:#383b53;font-weight:normal;white-space:nowrap;transform:scaleX(0.955);transform-origin:left center;">Profit</div>
<div style="position:absolute;left:947.5px;top:1428.0px;width:4.4px;height:4.4px;background:#383b53;border-radius:50%"></div>
<div style="position:absolute;left:947.5px;top:1435.0px;width:4.4px;height:4.4px;background:#383b53;border-radius:50%"></div>
<div style="position:absolute;left:947.5px;top:1442.0px;width:4.4px;height:4.4px;background:#383b53;border-radius:50%"></div>
<div style="position:absolute;left:978.00px;top:1426.90px;font-size:17.8px;line-height:20.47px;color:#383b53;font-weight:normal;white-space:nowrap;transform:scaleX(0.955);transform-origin:left center;">Segment</div>
<div style="position:absolute;left:1185.7px;top:1428.0px;width:4.4px;height:4.4px;background:#383b53;border-radius:50%"></div>
<div style="position:absolute;left:1185.7px;top:1435.0px;width:4.4px;height:4.4px;background:#383b53;border-radius:50%"></div>
<div style="position:absolute;left:1185.7px;top:1442.0px;width:4.4px;height:4.4px;background:#383b53;border-radius:50%"></div>
<div style="position:absolute;left:1216.20px;top:1426.90px;font-size:17.8px;line-height:20.47px;color:#383b53;font-weight:normal;white-space:nowrap;transform:scaleX(0.955);transform-origin:left center;">City</div>
<div style="position:absolute;left:1421.6px;top:1428.0px;width:4.4px;height:4.4px;background:#383b53;border-radius:50%"></div>
<div style="position:absolute;left:1421.6px;top:1435.0px;width:4.4px;height:4.4px;background:#383b53;border-radius:50%"></div>
<div style="position:absolute;left:1421.6px;top:1442.0px;width:4.4px;height:4.4px;background:#383b53;border-radius:50%"></div>
<div style="position:absolute;left:1452.10px;top:1426.90px;font-size:17.8px;line-height:20.47px;color:#383b53;font-weight:normal;white-space:nowrap;transform:scaleX(0.955);transform-origin:left center;">State</div>
<div style="position:absolute;left:1657.8px;top:1428.0px;width:4.4px;height:4.4px;background:#383b53;border-radius:50%"></div>
<div style="position:absolute;left:1657.8px;top:1435.0px;width:4.4px;height:4.4px;background:#383b53;border-radius:50%"></div>
<div style="position:absolute;left:1657.8px;top:1442.0px;width:4.4px;height:4.4px;background:#383b53;border-radius:50%"></div>
<div style="position:absolute;left:1688.30px;top:1426.90px;font-size:17.8px;line-height:20.47px;color:#383b53;font-weight:normal;white-space:nowrap;transform:scaleX(0.955);transform-origin:left center;">Product ID</div>
<div style="position:absolute;left:1893.6px;top:1428.0px;width:4.4px;height:4.4px;background:#383b53;border-radius:50%"></div>
<div style="position:absolute;left:1893.6px;top:1435.0px;width:4.4px;height:4.4px;background:#383b53;border-radius:50%"></div>
<div style="position:absolute;left:1893.6px;top:1442.0px;width:4.4px;height:4.4px;background:#383b53;border-radius:50%"></div>
<div style="position:absolute;left:1924.10px;top:1426.90px;font-size:17.8px;line-height:20.47px;color:#383b53;font-weight:normal;white-space:nowrap;transform:scaleX(0.955);transform-origin:left center;">Product Name</div>
<div style="position:absolute;left:2129.5px;top:1428.0px;width:4.4px;height:4.4px;background:#383b53;border-radius:50%"></div>
<div style="position:absolute;left:2129.5px;top:1435.0px;width:4.4px;height:4.4px;background:#383b53;border-radius:50%"></div>
<div style="position:absolute;left:2129.5px;top:1442.0px;width:4.4px;height:4.4px;background:#383b53;border-radius:50%"></div>
<div style="position:absolute;left:2160.00px;top:1426.90px;font-size:17.8px;line-height:20.47px;color:#383b53;font-weight:normal;white-space:nowrap;transform:scaleX(0.955);transform-origin:left center;">Category</div>
<div style="position:absolute;left:2365.4px;top:1428.0px;width:4.4px;height:4.4px;background:#383b53;border-radius:50%"></div>
<div style="position:absolute;left:2365.4px;top:1435.0px;width:4.4px;height:4.4px;background:#383b53;border-radius:50%"></div>
<div style="position:absolute;left:2365.4px;top:1442.0px;width:4.4px;height:4.4px;background:#383b53;border-radius:50%"></div>
<div style="position:absolute;left:2395.90px;top:1426.90px;font-size:17.8px;line-height:20.47px;color:#383b53;font-weight:normal;white-space:nowrap;transform:scaleX(0.955);transform-origin:left center;">Sub-Category</div>
<div style="position:absolute;left:2601.8px;top:1428.0px;width:4.4px;height:4.4px;background:#383b53;border-radius:50%"></div>
<div style="position:absolute;left:2601.8px;top:1435.0px;width:4.4px;height:4.4px;background:#383b53;border-radius:50%"></div>
<div style="position:absolute;left:2601.8px;top:1442.0px;width:4.4px;height:4.4px;background:#383b53;border-radius:50%"></div>
<div style="position:absolute;left:2632.30px;top:1426.90px;font-size:17.8px;line-height:20.47px;color:#383b53;font-weight:normal;white-space:nowrap;transform:scaleX(0.955);transform-origin:left center;">Sales</div>
<div style="position:absolute;left:2838.6000000000004px;top:1428.0px;width:4.4px;height:4.4px;background:#383b53;border-radius:50%"></div>
<div style="position:absolute;left:2838.6000000000004px;top:1435.0px;width:4.4px;height:4.4px;background:#383b53;border-radius:50%"></div>
<div style="position:absolute;left:2838.6000000000004px;top:1442.0px;width:4.4px;height:4.4px;background:#383b53;border-radius:50%"></div>
<div style="position:absolute;left:2869.10px;top:1426.90px;font-size:17.8px;line-height:20.47px;color:#383b53;font-weight:normal;white-space:nowrap;transform:scaleX(0.955);transform-origin:left center;">Quantity</div>
<div style="position:absolute;left:3074.8px;top:1428.0px;width:4.4px;height:4.4px;background:#383b53;border-radius:50%"></div>
<div style="position:absolute;left:3074.8px;top:1435.0px;width:4.4px;height:4.4px;background:#383b53;border-radius:50%"></div>
<div style="position:absolute;left:3074.8px;top:1442.0px;width:4.4px;height:4.4px;background:#383b53;border-radius:50%"></div>
<div style="position:absolute;left:3105.30px;top:1426.90px;font-size:17.8px;line-height:20.47px;color:#383b53;font-weight:normal;white-space:nowrap;transform:scaleX(0.955);transform-origin:left center;">Customer Name</div>
<div style="position:absolute;left:3310.6000000000004px;top:1428.0px;width:4.4px;height:4.4px;background:#383b53;border-radius:50%"></div>
<div style="position:absolute;left:3310.6000000000004px;top:1435.0px;width:4.4px;height:4.4px;background:#383b53;border-radius:50%"></div>
<div style="position:absolute;left:3310.6000000000004px;top:1442.0px;width:4.4px;height:4.4px;background:#383b53;border-radius:50%"></div>
<div style="position:absolute;left:297.5px;top:1758px;width:3020.5px;height:34px;background:#f7f7f8;border-bottom:1px solid #e4e5ec;box-sizing:border-box"></div>
<div style="position:absolute;left:534.0px;top:1758px;width:1px;height:34px;background:#e3e4ec"></div>
<div style="position:absolute;left:769.9px;top:1758px;width:1px;height:34px;background:#e3e4ec"></div>
<div style="position:absolute;left:969.7px;top:1758px;width:1px;height:34px;background:#e3e4ec"></div>
<div style="position:absolute;left:1207.9px;top:1758px;width:1px;height:34px;background:#e3e4ec"></div>
<div style="position:absolute;left:1443.8px;top:1758px;width:1px;height:34px;background:#e3e4ec"></div>
<div style="position:absolute;left:1680.0px;top:1758px;width:1px;height:34px;background:#e3e4ec"></div>
<div style="position:absolute;left:1915.8px;top:1758px;width:1px;height:34px;background:#e3e4ec"></div>
<div style="position:absolute;left:2151.7px;top:1758px;width:1px;height:34px;background:#e3e4ec"></div>
<div style="position:absolute;left:2387.6px;top:1758px;width:1px;height:34px;background:#e3e4ec"></div>
<div style="position:absolute;left:2624.0px;top:1758px;width:1px;height:34px;background:#e3e4ec"></div>
<div style="position:absolute;left:2860.8px;top:1758px;width:1px;height:34px;background:#e3e4ec"></div>
<div style="position:absolute;left:3097.0px;top:1758px;width:1px;height:34px;background:#e3e4ec"></div>
<div class="clip" style="left:33px;top:1758px;width:261.5px;height:34px"><div style="position:absolute;left:5.25px;top:5.20px;font-size:17.8px;line-height:20.47px;color:#383b53;font-weight:normal;white-space:nowrap;transform:scaleX(0.955);transform-origin:left center;">First: CA-2016-152156</div></div>
<div class="clip" style="left:297.5px;top:1758px;width:234.0px;height:34px"><div style="position:absolute;left:7.50px;top:5.20px;font-size:17.8px;line-height:20.47px;color:#383b53;font-weight:normal;white-space:nowrap;transform:scaleX(0.955);transform-origin:left center;">Max: 6/7/2023</div></div>
<div class="clip" style="left:534.5px;top:1758px;width:232.89999999999998px;height:34px"><div style="position:absolute;left:6.00px;top:5.20px;font-size:17.8px;line-height:20.47px;color:#383b53;font-weight:normal;white-space:nowrap;transform:scaleX(0.955);transform-origin:left center;">First: CG-12520</div></div>
<div style="position:absolute;right:2409.80px;top:1763.20px;font-size:17.8px;line-height:20.47px;color:#383b53;font-weight:normal;white-space:nowrap;transform:scaleX(0.955);transform-origin:right center;">Sum: $1,788,971,403</div>
<div class="clip" style="left:970.2px;top:1758px;width:235.20000000000005px;height:34px"><div style="position:absolute;left:6.00px;top:5.20px;font-size:17.8px;line-height:20.47px;color:#383b53;font-weight:normal;white-space:nowrap;transform:scaleX(0.955);transform-origin:left center;">First: Consumer</div></div>
<div class="clip" style="left:1208.4px;top:1758px;width:232.89999999999986px;height:34px"><div style="position:absolute;left:6.00px;top:5.20px;font-size:17.8px;line-height:20.47px;color:#383b53;font-weight:normal;white-space:nowrap;transform:scaleX(0.955);transform-origin:left center;">First: Henderson</div></div>
<div class="clip" style="left:1444.3px;top:1758px;width:233.20000000000005px;height:34px"><div style="position:absolute;left:6.00px;top:5.20px;font-size:17.8px;line-height:20.47px;color:#383b53;font-weight:normal;white-space:nowrap;transform:scaleX(0.955);transform-origin:left center;">First: Kentucky</div></div>
<div class="clip" style="left:1680.5px;top:1758px;width:232.79999999999995px;height:34px"><div style="position:absolute;left:6.00px;top:5.20px;font-size:17.8px;line-height:20.47px;color:#383b53;font-weight:normal;white-space:nowrap;transform:scaleX(0.955);transform-origin:left center;">First: FUR-BO-10001798</div></div>
<div class="clip" style="left:1916.3px;top:1758px;width:232.89999999999986px;height:34px"><div style="position:absolute;left:6.00px;top:5.20px;font-size:17.8px;line-height:20.47px;color:#383b53;font-weight:normal;white-space:nowrap;transform:scaleX(0.955);transform-origin:left center;">First: Bush Somerset Collec…</div></div>
<div class="clip" style="left:2152.2px;top:1758px;width:232.9000000000001px;height:34px"><div style="position:absolute;left:6.00px;top:5.20px;font-size:17.8px;line-height:20.47px;color:#383b53;font-weight:normal;white-space:nowrap;transform:scaleX(0.955);transform-origin:left center;">First: Furniture</div></div>
<div class="clip" style="left:2388.1px;top:1758px;width:233.4000000000001px;height:34px"><div style="position:absolute;left:6.00px;top:5.20px;font-size:17.8px;line-height:20.47px;color:#383b53;font-weight:normal;white-space:nowrap;transform:scaleX(0.955);transform-origin:left center;">First: Bookcases</div></div>
<div style="position:absolute;right:518.70px;top:1763.20px;font-size:17.8px;line-height:20.47px;color:#383b53;font-weight:normal;white-space:nowrap;transform:scaleX(0.955);transform-origin:right center;">Sum: +$1,100,555,406</div>
<div style="position:absolute;right:282.50px;top:1763.20px;font-size:17.8px;line-height:20.47px;color:#383b53;font-weight:normal;white-space:nowrap;transform:scaleX(0.955);transform-origin:right center;">Sum: 37,398</div>
<div class="clip" style="left:3097.5px;top:1758px;width:232.80000000000018px;height:34px"><div style="position:absolute;left:6.00px;top:5.20px;font-size:17.8px;line-height:20.47px;color:#383b53;font-weight:normal;white-space:nowrap;transform:scaleX(0.955);transform-origin:left center;">First: Claire Gute</div></div>
<div style="position:absolute;left:296.75px;top:1417px;width:1.5px;height:42.5px;background:#b3b6c8"></div>
<div style="position:absolute;left:296.5px;top:1459.5px;width:2.4px;height:332.5px;background:#a3a6ba"></div>
<div style="position:absolute;left:2321.25px;width:500px;text-align:center;top:72.04px;font-size:61px;line-height:70.15px;color:#7a7f9a;font-weight:normal;white-space:nowrap;transform:scaleX(0.971);transform-origin:center center;">Global Profit</div>
<div style="position:absolute;left:2421.25px;width:300px;text-align:center;top:141.54px;font-size:33.6px;line-height:38.64px;color:#7a7f9a;font-weight:normal;white-space:nowrap;">2023</div>
<div style="position:absolute;left:2321.25px;width:500px;text-align:center;top:177.61px;font-size:97px;line-height:111.55px;color:#383a52;font-weight:bold;white-space:nowrap;transform:scaleX(0.975);transform-origin:center center;">$635M</div>
<div style="position:absolute;left:2433.00px;top:286.38px;font-size:43px;line-height:49.45px;color:#6a9fb5;font-weight:bold;white-space:nowrap;transform:scaleX(0.92);transform-origin:left center;">30%</div>
<div style="position:absolute;left:2525.00px;top:285.45px;font-size:44px;line-height:50.60px;color:#7a7f9a;font-weight:normal;white-space:nowrap;transform:scaleX(0.932);transform-origin:left center;">2022:</div>
<div style="position:absolute;left:2631.00px;top:284.22px;font-size:44.8px;line-height:51.52px;color:#383a52;font-weight:bold;white-space:nowrap;transform:scaleX(0.96);transform-origin:left center;">$489M</div>
<div style="position:absolute;left:2844.00px;width:500px;text-align:center;top:72.04px;font-size:61px;line-height:70.15px;color:#7a7f9a;font-weight:normal;white-space:nowrap;transform:scaleX(0.971);transform-origin:center center;">Global Sales</div>
<div style="position:absolute;left:2944.00px;width:300px;text-align:center;top:141.54px;font-size:33.6px;line-height:38.64px;color:#7a7f9a;font-weight:normal;white-space:nowrap;">2023</div>
<div style="position:absolute;left:2844.00px;width:500px;text-align:center;top:177.61px;font-size:97px;line-height:111.55px;color:#383a52;font-weight:bold;white-space:nowrap;transform:scaleX(0.975);transform-origin:center center;">346M</div>
<div style="position:absolute;left:2968.75px;top:286.38px;font-size:43px;line-height:49.45px;color:#6a9fb5;font-weight:bold;white-space:nowrap;transform:scaleX(0.92);transform-origin:left center;">13%</div>
<div style="position:absolute;left:3059.25px;top:285.45px;font-size:44px;line-height:50.60px;color:#7a7f9a;font-weight:normal;white-space:nowrap;transform:scaleX(0.932);transform-origin:left center;">2022:</div>
<div style="position:absolute;left:3165.00px;top:284.22px;font-size:44.8px;line-height:51.52px;color:#383a52;font-weight:bold;white-space:nowrap;transform:scaleX(0.96);transform-origin:left center;">307M</div>
<svg style="position:absolute;left:0;top:0" width="3374" height="400"><g stroke="#6a9fb5" stroke-width="3.2" fill="none" stroke-linecap="butt"><line x1="2386" y1="324" x2="2414" y2="296"/><polyline points="2402,294.8 2414.5,294.8 2414.5,307.2"/><line x1="2920.5" y1="324" x2="2948.5" y2="296"/><polyline points="2936.5,294.8 2949,294.8 2949,307.2"/></g></svg>
<svg width="3374" height="1854" viewBox="0 0 3374 1854" style="position:absolute;left:0;top:0">
<defs><linearGradient id="gCons" gradientUnits="userSpaceOnUse" x1="0" y1="111" x2="0" y2="604"><stop offset="0" stop-color="#5f6fd6" stop-opacity="0.72"/><stop offset="1" stop-color="#5f6fd6" stop-opacity="0.22"/></linearGradient><linearGradient id="gCorp" gradientUnits="userSpaceOnUse" x1="0" y1="111" x2="0" y2="604"><stop offset="0" stop-color="#85c8f5" stop-opacity="0.85"/><stop offset="1" stop-color="#85c8f5" stop-opacity="0.2"/></linearGradient><linearGradient id="gHO" gradientUnits="userSpaceOnUse" x1="0" y1="111" x2="0" y2="604"><stop offset="0" stop-color="#35139c" stop-opacity="0.9"/><stop offset="1" stop-color="#35139c" stop-opacity="0.26"/></linearGradient></defs>
<line x1="1145" y1="111" x2="2276" y2="111" stroke="#dfe4f3" stroke-width="1.2"/>
<line x1="1145" y1="233.75" x2="2276" y2="233.75" stroke="#dfe4f3" stroke-width="1.2"/>
<line x1="1145" y1="357" x2="2276" y2="357" stroke="#dfe4f3" stroke-width="1.2"/>
<line x1="1145" y1="480.5" x2="2276" y2="480.5" stroke="#dfe4f3" stroke-width="1.2"/>
<text x="1130.75" y="116.20" font-size="17.1" fill="#666a73" text-anchor="end" font-weight="normal" >$80M</text>
<text x="1130.75" y="238.95" font-size="17.1" fill="#666a73" text-anchor="end" font-weight="normal" >$60M</text>
<text x="1130.75" y="362.20" font-size="17.1" fill="#666a73" text-anchor="end" font-weight="normal" >$40M</text>
<text x="1130.75" y="485.70" font-size="17.1" fill="#666a73" text-anchor="end" font-weight="normal" >$20M</text>
<text x="1130.75" y="609.70" font-size="17.1" fill="#666a73" text-anchor="end" font-weight="normal" >$0</text>
<polygon points="1185.00,604.5 1185.00,542.50 1265.83,455.50 1346.66,330.50 1427.49,310.75 1508.32,420.50 1589.15,424.50 1669.98,429.00 1750.81,385.25 1831.64,480.25 1912.47,397.75 1993.30,261.25 2074.13,273.75 2154.96,111.00 2235.79,111.00 2235.79,604.5" fill="url(#gCons)"/>
<polygon points="1185.00,604.5 1185.00,565.50 1265.83,547.50 1346.66,493.75 1427.49,431.25 1508.32,492.00 1589.15,501.25 1669.98,490.00 1750.81,494.00 1831.64,554.00 1912.47,512.00 1993.30,332.50 2074.13,412.75 2154.96,233.75 2235.79,332.50 2235.79,604.5" fill="url(#gCorp)"/>
<polygon points="1185.00,604.5 1185.00,559.50 1265.83,582.50 1346.66,540.75 1427.49,553.25 1508.32,563.00 1589.15,568.00 1669.98,571.50 1750.81,477.50 1831.64,546.00 1912.47,534.50 1993.30,536.50 2074.13,502.25 2154.96,405.25 2235.79,292.00 2235.79,604.5" fill="url(#gHO)"/>
<polyline points="1185.00,542.50 1265.83,455.50 1346.66,330.50 1427.49,310.75 1508.32,420.50 1589.15,424.50 1669.98,429.00 1750.81,385.25 1831.64,480.25 1912.47,397.75 1993.30,261.25 2074.13,273.75 2154.96,111.00 2235.79,111.00" fill="none" stroke="#5f6fd6" stroke-width="1.35" stroke-linejoin="round"/>
<polyline points="1185.00,565.50 1265.83,547.50 1346.66,493.75 1427.49,431.25 1508.32,492.00 1589.15,501.25 1669.98,490.00 1750.81,494.00 1831.64,554.00 1912.47,512.00 1993.30,332.50 2074.13,412.75 2154.96,233.75 2235.79,332.50" fill="none" stroke="#85c8f5" stroke-width="1.35" stroke-linejoin="round"/>
<polyline points="1185.00,559.50 1265.83,582.50 1346.66,540.75 1427.49,553.25 1508.32,563.00 1589.15,568.00 1669.98,571.50 1750.81,477.50 1831.64,546.00 1912.47,534.50 1993.30,536.50 2074.13,502.25 2154.96,405.25 2235.79,292.00" fill="none" stroke="#35139c" stroke-width="1.7" stroke-linejoin="round"/>
<line x1="1144.5" y1="604.5" x2="2276" y2="604.5" stroke="#6b6e78" stroke-width="1.6"/>
<line x1="1185.00" y1="604.5" x2="1185.00" y2="611.5" stroke="#6b6e78" stroke-width="1.5"/>
<text transform="translate(1188.00,616) rotate(-90)" font-size="15.7" fill="#666a73" text-anchor="end">Q1 2020</text>
<line x1="1265.83" y1="604.5" x2="1265.83" y2="611.5" stroke="#6b6e78" stroke-width="1.5"/>
<text transform="translate(1268.83,616) rotate(-90)" font-size="15.7" fill="#666a73" text-anchor="end">Q2 2020</text>
<line x1="1346.66" y1="604.5" x2="1346.66" y2="611.5" stroke="#6b6e78" stroke-width="1.5"/>
<text transform="translate(1349.66,616) rotate(-90)" font-size="15.7" fill="#666a73" text-anchor="end">Q3 2020</text>
<line x1="1427.49" y1="604.5" x2="1427.49" y2="611.5" stroke="#6b6e78" stroke-width="1.5"/>
<text transform="translate(1430.49,616) rotate(-90)" font-size="15.7" fill="#666a73" text-anchor="end">Q4 2020</text>
<line x1="1508.32" y1="604.5" x2="1508.32" y2="611.5" stroke="#6b6e78" stroke-width="1.5"/>
<text transform="translate(1511.32,616) rotate(-90)" font-size="15.7" fill="#666a73" text-anchor="end">Q1 2021</text>
<line x1="1589.15" y1="604.5" x2="1589.15" y2="611.5" stroke="#6b6e78" stroke-width="1.5"/>
<text transform="translate(1592.15,616) rotate(-90)" font-size="15.7" fill="#666a73" text-anchor="end">Q2 2021</text>
<line x1="1669.98" y1="604.5" x2="1669.98" y2="611.5" stroke="#6b6e78" stroke-width="1.5"/>
<text transform="translate(1672.98,616) rotate(-90)" font-size="15.7" fill="#666a73" text-anchor="end">Q3 2021</text>
<line x1="1750.81" y1="604.5" x2="1750.81" y2="611.5" stroke="#6b6e78" stroke-width="1.5"/>
<text transform="translate(1753.81,616) rotate(-90)" font-size="15.7" fill="#666a73" text-anchor="end">Q4 2021</text>
<line x1="1831.64" y1="604.5" x2="1831.64" y2="611.5" stroke="#6b6e78" stroke-width="1.5"/>
<text transform="translate(1834.64,616) rotate(-90)" font-size="15.7" fill="#666a73" text-anchor="end">Q1 2022</text>
<line x1="1912.47" y1="604.5" x2="1912.47" y2="611.5" stroke="#6b6e78" stroke-width="1.5"/>
<text transform="translate(1915.47,616) rotate(-90)" font-size="15.7" fill="#666a73" text-anchor="end">Q2 2022</text>
<line x1="1993.30" y1="604.5" x2="1993.30" y2="611.5" stroke="#6b6e78" stroke-width="1.5"/>
<text transform="translate(1996.30,616) rotate(-90)" font-size="15.7" fill="#666a73" text-anchor="end">Q3 2022</text>
<line x1="2074.13" y1="604.5" x2="2074.13" y2="611.5" stroke="#6b6e78" stroke-width="1.5"/>
<text transform="translate(2077.13,616) rotate(-90)" font-size="15.7" fill="#666a73" text-anchor="end">Q4 2022</text>
<line x1="2154.96" y1="604.5" x2="2154.96" y2="611.5" stroke="#6b6e78" stroke-width="1.5"/>
<text transform="translate(2157.96,616) rotate(-90)" font-size="15.7" fill="#666a73" text-anchor="end">Q1 2023</text>
<line x1="2235.79" y1="604.5" x2="2235.79" y2="611.5" stroke="#6b6e78" stroke-width="1.5"/>
<text transform="translate(2238.79,616) rotate(-90)" font-size="15.7" fill="#666a73" text-anchor="end">Q2 2023</text>
<text x="1185.00" y="533.00" font-size="15.8" fill="#333333" text-anchor="middle" font-weight="normal" stroke="#ffffff" stroke-width="3" paint-order="stroke" stroke-linejoin="round">$10M</text>
<text x="1185.00" y="556.25" font-size="15.8" fill="#333333" text-anchor="middle" font-weight="normal" stroke="#ffffff" stroke-width="3" paint-order="stroke" stroke-linejoin="round">$6M</text>
<text x="1265.83" y="446.75" font-size="15.8" fill="#333333" text-anchor="middle" font-weight="normal" stroke="#ffffff" stroke-width="3" paint-order="stroke" stroke-linejoin="round">$24M</text>
<text x="1265.83" y="538.25" font-size="15.8" fill="#333333" text-anchor="middle" font-weight="normal" stroke="#ffffff" stroke-width="3" paint-order="stroke" stroke-linejoin="round">$9M</text>
<text x="1265.83" y="573.00" font-size="15.8" fill="#333333" text-anchor="middle" font-weight="normal" stroke="#ffffff" stroke-width="3" paint-order="stroke" stroke-linejoin="round">$3M</text>
<text x="1346.66" y="321.00" font-size="15.8" fill="#333333" text-anchor="middle" font-weight="normal" stroke="#ffffff" stroke-width="3" paint-order="stroke" stroke-linejoin="round">$44M</text>
<text x="1346.66" y="485.00" font-size="15.8" fill="#333333" text-anchor="middle" font-weight="normal" stroke="#ffffff" stroke-width="3" paint-order="stroke" stroke-linejoin="round">$18M</text>
<text x="1346.66" y="531.25" font-size="15.8" fill="#333333" text-anchor="middle" font-weight="normal" stroke="#ffffff" stroke-width="3" paint-order="stroke" stroke-linejoin="round">$10M</text>
<text x="1427.49" y="301.00" font-size="15.8" fill="#333333" text-anchor="middle" font-weight="normal" stroke="#ffffff" stroke-width="3" paint-order="stroke" stroke-linejoin="round">$48M</text>
<text x="1427.49" y="422.00" font-size="15.8" fill="#333333" text-anchor="middle" font-weight="normal" stroke="#ffffff" stroke-width="3" paint-order="stroke" stroke-linejoin="round">$28M</text>
<text x="1427.49" y="544.25" font-size="15.8" fill="#333333" text-anchor="middle" font-weight="normal" stroke="#ffffff" stroke-width="3" paint-order="stroke" stroke-linejoin="round">$8M</text>
<text x="1508.32" y="411.25" font-size="15.8" fill="#333333" text-anchor="middle" font-weight="normal" stroke="#ffffff" stroke-width="3" paint-order="stroke" stroke-linejoin="round">$30M</text>
<text x="1508.32" y="483.25" font-size="15.8" fill="#333333" text-anchor="middle" font-weight="normal" stroke="#ffffff" stroke-width="3" paint-order="stroke" stroke-linejoin="round">$18M</text>
<text x="1508.32" y="553.75" font-size="15.8" fill="#333333" text-anchor="middle" font-weight="normal" stroke="#ffffff" stroke-width="3" paint-order="stroke" stroke-linejoin="round">$7M</text>
<text x="1589.15" y="416.25" font-size="15.8" fill="#333333" text-anchor="middle" font-weight="normal" stroke="#ffffff" stroke-width="3" paint-order="stroke" stroke-linejoin="round">$29M</text>
<text x="1589.15" y="492.50" font-size="15.8" fill="#333333" text-anchor="middle" font-weight="normal" stroke="#ffffff" stroke-width="3" paint-order="stroke" stroke-linejoin="round">$17M</text>
<text x="1589.15" y="558.75" font-size="15.8" fill="#333333" text-anchor="middle" font-weight="normal" stroke="#ffffff" stroke-width="3" paint-order="stroke" stroke-linejoin="round">$6M</text>
<text x="1669.98" y="420.00" font-size="15.8" fill="#333333" text-anchor="middle" font-weight="normal" stroke="#ffffff" stroke-width="3" paint-order="stroke" stroke-linejoin="round">$28M</text>
<text x="1669.98" y="480.50" font-size="15.8" fill="#333333" text-anchor="middle" font-weight="normal" stroke="#ffffff" stroke-width="3" paint-order="stroke" stroke-linejoin="round">$18M</text>
<text x="1669.98" y="563.00" font-size="15.8" fill="#333333" text-anchor="middle" font-weight="normal" stroke="#ffffff" stroke-width="3" paint-order="stroke" stroke-linejoin="round">$5M</text>
<text x="1750.81" y="376.00" font-size="15.8" fill="#333333" text-anchor="middle" font-weight="normal" stroke="#ffffff" stroke-width="3" paint-order="stroke" stroke-linejoin="round">$35M</text>
<text x="1750.81" y="465.25" font-size="15.8" fill="#333333" text-anchor="middle" font-weight="normal" stroke="#ffffff" stroke-width="3" paint-order="stroke" stroke-linejoin="round">$21M</text>
<text x="1750.81" y="484.00" font-size="15.8" fill="#333333" text-anchor="middle" font-weight="normal" stroke="#ffffff" stroke-width="3" paint-order="stroke" stroke-linejoin="round">$18M</text>
<text x="1831.64" y="471.00" font-size="15.8" fill="#333333" text-anchor="middle" font-weight="normal" stroke="#ffffff" stroke-width="3" paint-order="stroke" stroke-linejoin="round">$20M</text>
<text x="1831.64" y="545.25" font-size="15.8" fill="#333333" text-anchor="middle" font-weight="normal" stroke="#ffffff" stroke-width="3" paint-order="stroke" stroke-linejoin="round">$8M</text>
<text x="1912.47" y="387.25" font-size="15.8" fill="#333333" text-anchor="middle" font-weight="normal" stroke="#ffffff" stroke-width="3" paint-order="stroke" stroke-linejoin="round">$33M</text>
<text x="1912.47" y="504.00" font-size="15.8" fill="#333333" text-anchor="middle" font-weight="normal" stroke="#ffffff" stroke-width="3" paint-order="stroke" stroke-linejoin="round">$14M</text>
<text x="1912.47" y="525.25" font-size="15.8" fill="#333333" text-anchor="middle" font-weight="normal" stroke="#ffffff" stroke-width="3" paint-order="stroke" stroke-linejoin="round">$11M</text>
<text x="1993.30" y="251.25" font-size="15.8" fill="#333333" text-anchor="middle" font-weight="normal" stroke="#ffffff" stroke-width="3" paint-order="stroke" stroke-linejoin="round">$56M</text>
<text x="1993.30" y="323.75" font-size="15.8" fill="#333333" text-anchor="middle" font-weight="normal" stroke="#ffffff" stroke-width="3" paint-order="stroke" stroke-linejoin="round">$44M</text>
<text x="1993.30" y="526.50" font-size="15.8" fill="#333333" text-anchor="middle" font-weight="normal" stroke="#ffffff" stroke-width="3" paint-order="stroke" stroke-linejoin="round">$11M</text>
<text x="2074.13" y="263.75" font-size="15.8" fill="#333333" text-anchor="middle" font-weight="normal" stroke="#ffffff" stroke-width="3" paint-order="stroke" stroke-linejoin="round">$53M</text>
<text x="2074.13" y="402.75" font-size="15.8" fill="#333333" text-anchor="middle" font-weight="normal" stroke="#ffffff" stroke-width="3" paint-order="stroke" stroke-linejoin="round">$31M</text>
<text x="2074.13" y="492.25" font-size="15.8" fill="#333333" text-anchor="middle" font-weight="normal" stroke="#ffffff" stroke-width="3" paint-order="stroke" stroke-linejoin="round">$16M</text>
<text x="2154.96" y="101.25" font-size="15.8" fill="#333333" text-anchor="middle" font-weight="normal" stroke="#ffffff" stroke-width="3" paint-order="stroke" stroke-linejoin="round">$80M</text>
<text x="2154.96" y="223.75" font-size="15.8" fill="#333333" text-anchor="middle" font-weight="normal" stroke="#ffffff" stroke-width="3" paint-order="stroke" stroke-linejoin="round">$60M</text>
<text x="2154.96" y="397.75" font-size="15.8" fill="#333333" text-anchor="middle" font-weight="normal" stroke="#ffffff" stroke-width="3" paint-order="stroke" stroke-linejoin="round">$32M</text>
<text x="2235.79" y="102.00" font-size="15.8" fill="#333333" text-anchor="middle" font-weight="normal" stroke="#ffffff" stroke-width="3" paint-order="stroke" stroke-linejoin="round">$80M</text>
<text x="2235.79" y="281.75" font-size="15.8" fill="#333333" text-anchor="middle" font-weight="normal" stroke="#ffffff" stroke-width="3" paint-order="stroke" stroke-linejoin="round">$51M</text>
<text x="2235.79" y="322.50" font-size="15.8" fill="#333333" text-anchor="middle" font-weight="normal" stroke="#ffffff" stroke-width="3" paint-order="stroke" stroke-linejoin="round">$44M</text>
<rect x="1471" y="698" width="19" height="19" rx="5" fill="#5f6fd6"/>
<text x="1496.00" y="712.80" font-size="17" fill="#383b53" text-anchor="start" font-weight="normal" >Consumer</text>
<rect x="1612" y="698" width="19" height="19" rx="5" fill="#85c8f5"/>
<text x="1636.50" y="712.80" font-size="17" fill="#383b53" text-anchor="start" font-weight="normal" >Corporate</text>
<rect x="1750" y="698" width="19" height="19" rx="5" fill="#35139c"/>
<text x="1774.00" y="712.80" font-size="17" fill="#383b53" text-anchor="start" font-weight="normal" >Home Office</text>
<path d="M2571.70,453.20 A118.2,118.2 0 1 1 2566.96,689.50 L2569.32,630.75 A59.4,59.4 0 1 0 2571.70,512.00 Z" fill="#5f6fd6"/>
<path d="M2566.96,689.50 A118.2,118.2 0 0 1 2456.81,543.61 L2513.97,557.43 A59.4,59.4 0 0 0 2569.32,630.75 Z" fill="#8792e0"/>
<path d="M2456.81,543.61 A118.2,118.2 0 0 1 2571.70,453.20 L2571.70,512.00 A59.4,59.4 0 0 0 2513.97,557.43 Z" fill="#b8bfec"/>
<polyline points="2467.6,462.2 2486.9,462.2 2498,478" fill="none" stroke="#b3baea" stroke-width="1.3"/>
<polyline points="2690,574 2730,574" fill="none" stroke="#5f6fd6" stroke-width="1.3"/>
<polyline points="2441.5,653.8 2461,653.8 2477,642.6" fill="none" stroke="#8792e0" stroke-width="1.3"/>
<text x="2358.40" y="467.50" font-size="16" fill="#333333" text-anchor="start" font-weight="normal" >Home Office...</text>
<text x="2737.50" y="578.80" font-size="16" fill="#333333" text-anchor="start" font-weight="normal" >Cons...</text>
<text x="2359.30" y="658.90" font-size="16" fill="#333333" text-anchor="start" font-weight="normal" >Corporat...</text>
<line x1="145" y1="843.75" x2="1010" y2="843.75" stroke="#dfe4f3" stroke-width="1.2"/>
<line x1="145" y1="908.25" x2="1010" y2="908.25" stroke="#dfe4f3" stroke-width="1.2"/>
<line x1="145" y1="973.25" x2="1010" y2="973.25" stroke="#dfe4f3" stroke-width="1.2"/>
<line x1="145" y1="1038.25" x2="1010" y2="1038.25" stroke="#dfe4f3" stroke-width="1.2"/>
<line x1="145" y1="1103.75" x2="1010" y2="1103.75" stroke="#dfe4f3" stroke-width="1.2"/>
<line x1="145" y1="1233.25" x2="1010" y2="1233.25" stroke="#dfe4f3" stroke-width="1.2"/>
<line x1="145" y1="1298.25" x2="1010" y2="1298.25" stroke="#dfe4f3" stroke-width="1.2"/>
<line x1="361.5" y1="843.75" x2="361.5" y2="1298.25" stroke="#dfe4f3" stroke-width="1.2"/>
<line x1="578" y1="843.75" x2="578" y2="1298.25" stroke="#dfe4f3" stroke-width="1.2"/>
<line x1="794.5" y1="843.75" x2="794.5" y2="1298.25" stroke="#dfe4f3" stroke-width="1.2"/>
<line x1="1010" y1="843.75" x2="1010" y2="1298.25" stroke="#dfe4f3" stroke-width="1.2"/>
<line x1="145" y1="843.75" x2="145" y2="1298.25" stroke="#6b6e78" stroke-width="1.6"/>
<line x1="145" y1="1168" x2="1010" y2="1168" stroke="#6b6e78" stroke-width="1.8"/>
<line x1="138" y1="843.75" x2="145" y2="843.75" stroke="#6b6e78" stroke-width="1.5"/>
<text x="133.75" y="849.25" font-size="15.7" fill="#666a73" text-anchor="end" font-weight="normal" >500M</text>
<line x1="138" y1="908.25" x2="145" y2="908.25" stroke="#6b6e78" stroke-width="1.5"/>
<text x="133.75" y="913.75" font-size="15.7" fill="#666a73" text-anchor="end" font-weight="normal" >400M</text>
<line x1="138" y1="973.25" x2="145" y2="973.25" stroke="#6b6e78" stroke-width="1.5"/>
<text x="133.75" y="978.75" font-size="15.7" fill="#666a73" text-anchor="end" font-weight="normal" >300M</text>
<line x1="138" y1="1038.25" x2="145" y2="1038.25" stroke="#6b6e78" stroke-width="1.5"/>
<text x="133.75" y="1043.75" font-size="15.7" fill="#666a73" text-anchor="end" font-weight="normal" >200M</text>
<line x1="138" y1="1103.75" x2="145" y2="1103.75" stroke="#6b6e78" stroke-width="1.5"/>
<text x="133.75" y="1109.25" font-size="15.7" fill="#666a73" text-anchor="end" font-weight="normal" >100M</text>
<line x1="138" y1="1168" x2="145" y2="1168" stroke="#6b6e78" stroke-width="1.5"/>
<text x="133.75" y="1173.50" font-size="15.7" fill="#666a73" text-anchor="end" font-weight="normal" >0</text>
<line x1="138" y1="1233.25" x2="145" y2="1233.25" stroke="#6b6e78" stroke-width="1.5"/>
<text x="133.75" y="1238.75" font-size="15.7" fill="#666a73" text-anchor="end" font-weight="normal" >-100M</text>
<line x1="138" y1="1298.25" x2="145" y2="1298.25" stroke="#6b6e78" stroke-width="1.5"/>
<text x="133.75" y="1303.75" font-size="15.7" fill="#666a73" text-anchor="end" font-weight="normal" >-200M</text>
<text x="145.00" y="1321.25" font-size="15.7" fill="#666a73" text-anchor="middle" font-weight="normal" >0</text>
<line x1="361.5" y1="1168" x2="361.5" y2="1175" stroke="#6b6e78" stroke-width="1.5"/>
<text x="361.50" y="1321.25" font-size="15.7" fill="#666a73" text-anchor="middle" font-weight="normal" >2K</text>
<line x1="578" y1="1168" x2="578" y2="1175" stroke="#6b6e78" stroke-width="1.5"/>
<text x="578.00" y="1321.25" font-size="15.7" fill="#666a73" text-anchor="middle" font-weight="normal" >4K</text>
<line x1="794.5" y1="1168" x2="794.5" y2="1175" stroke="#6b6e78" stroke-width="1.5"/>
<text x="794.50" y="1321.25" font-size="15.7" fill="#666a73" text-anchor="middle" font-weight="normal" >6K</text>
<line x1="1010" y1="1168" x2="1010" y2="1175" stroke="#6b6e78" stroke-width="1.5"/>
<text x="1010.00" y="1321.25" font-size="15.7" fill="#666a73" text-anchor="middle" font-weight="normal" >8K</text>
<text transform="translate(57.5,1070.6) rotate(-90)" font-size="15.9" font-weight="bold" fill="#666a73" text-anchor="middle">Profit per State</text>
<circle cx="345.75" cy="1010.5" r="6.4" fill="#5048dd" fill-opacity="0.8"/>
<circle cx="596.25" cy="861.25" r="6.4" fill="#5048dd" fill-opacity="0.8"/>
<circle cx="965" cy="872.5" r="6.4" fill="#5048dd" fill-opacity="0.8"/>
<circle cx="246.8" cy="1092.7" r="6.4" fill="#5048dd" fill-opacity="0.8"/>
<circle cx="240.2" cy="1095.3" r="6.4" fill="#5048dd" fill-opacity="0.8"/>
<circle cx="220.1" cy="1112.6" r="6.4" fill="#5048dd" fill-opacity="0.8"/>
<circle cx="184.5" cy="1111.2" r="6.4" fill="#5048dd" fill-opacity="0.8"/>
<circle cx="180.6" cy="1116.7" r="6.4" fill="#5048dd" fill-opacity="0.8"/>
<circle cx="192.7" cy="1121.1" r="6.4" fill="#5048dd" fill-opacity="0.8"/>
<circle cx="200.8" cy="1124.5" r="6.4" fill="#5048dd" fill-opacity="0.8"/>
<circle cx="205.3" cy="1126.2" r="6.4" fill="#5048dd" fill-opacity="0.8"/>
<circle cx="172.1" cy="1129.4" r="6.4" fill="#5048dd" fill-opacity="0.8"/>
<circle cx="193.6" cy="1133.2" r="6.4" fill="#5048dd" fill-opacity="0.8"/>
<circle cx="197" cy="1137.6" r="6.4" fill="#5048dd" fill-opacity="0.8"/>
<circle cx="190.3" cy="1143.6" r="6.4" fill="#5048dd" fill-opacity="0.8"/>
<circle cx="166.4" cy="1143.1" r="6.4" fill="#5048dd" fill-opacity="0.8"/>
<circle cx="171.5" cy="1144.4" r="6.4" fill="#5048dd" fill-opacity="0.8"/>
<circle cx="163.1" cy="1152.7" r="6.4" fill="#5048dd" fill-opacity="0.8"/>
<circle cx="174.9" cy="1152.7" r="6.4" fill="#5048dd" fill-opacity="0.8"/>
<circle cx="170.7" cy="1150.3" r="6.4" fill="#5048dd" fill-opacity="0.8"/>
<circle cx="168.1" cy="1158.8" r="6.4" fill="#5048dd" fill-opacity="0.8"/>
<circle cx="166.4" cy="1161.4" r="6.4" fill="#5048dd" fill-opacity="0.8"/>
<circle cx="159.7" cy="1162.2" r="6.4" fill="#5048dd" fill-opacity="0.8"/>
<circle cx="149.1" cy="1161.4" r="6.4" fill="#5048dd" fill-opacity="0.8"/>
<circle cx="155.4" cy="1163.9" r="6.4" fill="#5048dd" fill-opacity="0.8"/>
<circle cx="145.3" cy="1168.1" r="6.4" fill="#5048dd" fill-opacity="0.8"/>
<circle cx="150.3" cy="1165.6" r="6.4" fill="#5048dd" fill-opacity="0.8"/>
<circle cx="162.2" cy="1164.7" r="6.4" fill="#5048dd" fill-opacity="0.8"/>
<circle cx="152" cy="1169" r="6.4" fill="#5048dd" fill-opacity="0.8"/>
<circle cx="147" cy="1169.8" r="6.4" fill="#5048dd" fill-opacity="0.8"/>
<circle cx="157" cy="1167" r="6.4" fill="#5048dd" fill-opacity="0.8"/>
<circle cx="160" cy="1165" r="6.4" fill="#5048dd" fill-opacity="0.8"/>
<circle cx="154" cy="1168" r="6.4" fill="#5048dd" fill-opacity="0.8"/>
<circle cx="149" cy="1166" r="6.4" fill="#5048dd" fill-opacity="0.8"/>
<circle cx="168" cy="1162" r="6.4" fill="#5048dd" fill-opacity="0.8"/>
<circle cx="198.6" cy="1173.2" r="6.4" fill="#5048dd" fill-opacity="0.8"/>
<circle cx="219.4" cy="1174.1" r="6.4" fill="#5048dd" fill-opacity="0.8"/>
<circle cx="238" cy="1183.8" r="6.4" fill="#5048dd" fill-opacity="0.8"/>
<circle cx="215.2" cy="1190.2" r="6.4" fill="#5048dd" fill-opacity="0.8"/>
<circle cx="288.7" cy="1185.5" r="6.4" fill="#5048dd" fill-opacity="0.8"/>
<circle cx="251.25" cy="1221.25" r="6.4" fill="#5048dd" fill-opacity="0.8"/>
<circle cx="335" cy="1221.25" r="6.4" fill="#5048dd" fill-opacity="0.8"/>
<circle cx="341.25" cy="1214.25" r="6.4" fill="#5048dd" fill-opacity="0.8"/>
<circle cx="374.25" cy="1220" r="6.4" fill="#5048dd" fill-opacity="0.8"/>
<circle cx="540.75" cy="1271.75" r="6.4" fill="#5048dd" fill-opacity="0.8"/>
<line x1="1155.75" y1="844.25" x2="2277" y2="844.25" stroke="#dfe4f3" stroke-width="1.2"/>
<text x="1141.25" y="849.85" font-size="17" fill="#666a73" text-anchor="end" font-weight="normal" >$500M</text>
<line x1="1155.75" y1="927.75" x2="2277" y2="927.75" stroke="#dfe4f3" stroke-width="1.2"/>
<text x="1141.25" y="933.35" font-size="17" fill="#666a73" text-anchor="end" font-weight="normal" >$400M</text>
<line x1="1155.75" y1="1010.75" x2="2277" y2="1010.75" stroke="#dfe4f3" stroke-width="1.2"/>
<text x="1141.25" y="1016.35" font-size="17" fill="#666a73" text-anchor="end" font-weight="normal" >$300M</text>
<line x1="1155.75" y1="1094.5" x2="2277" y2="1094.5" stroke="#dfe4f3" stroke-width="1.2"/>
<text x="1141.25" y="1100.10" font-size="17" fill="#666a73" text-anchor="end" font-weight="normal" >$200M</text>
<line x1="1155.75" y1="1177.5" x2="2277" y2="1177.5" stroke="#dfe4f3" stroke-width="1.2"/>
<text x="1141.25" y="1183.10" font-size="17" fill="#666a73" text-anchor="end" font-weight="normal" >$100M</text>
<text x="1141.25" y="1266.85" font-size="17" fill="#666a73" text-anchor="end" font-weight="normal" >$0</text>
<line x1="1155.75" y1="844.25" x2="1155.75" y2="1261.25" stroke="#dfe4f3" stroke-width="1.2"/>
<line x1="1267.88" y1="844.25" x2="1267.88" y2="1261.25" stroke="#dfe4f3" stroke-width="1.2"/>
<line x1="1380.00" y1="844.25" x2="1380.00" y2="1261.25" stroke="#dfe4f3" stroke-width="1.2"/>
<line x1="1492.12" y1="844.25" x2="1492.12" y2="1261.25" stroke="#dfe4f3" stroke-width="1.2"/>
<line x1="1604.25" y1="844.25" x2="1604.25" y2="1261.25" stroke="#dfe4f3" stroke-width="1.2"/>
<line x1="1716.38" y1="844.25" x2="1716.38" y2="1261.25" stroke="#dfe4f3" stroke-width="1.2"/>
<line x1="1828.50" y1="844.25" x2="1828.50" y2="1261.25" stroke="#dfe4f3" stroke-width="1.2"/>
<line x1="1940.62" y1="844.25" x2="1940.62" y2="1261.25" stroke="#dfe4f3" stroke-width="1.2"/>
<line x1="2052.75" y1="844.25" x2="2052.75" y2="1261.25" stroke="#dfe4f3" stroke-width="1.2"/>
<line x1="2164.88" y1="844.25" x2="2164.88" y2="1261.25" stroke="#dfe4f3" stroke-width="1.2"/>
<line x1="2277.00" y1="844.25" x2="2277.00" y2="1261.25" stroke="#dfe4f3" stroke-width="1.2"/>
<rect x="1173.31" y="1032" width="77" height="229.25" fill="#5f6fd6"/>
<rect x="1173.31" y="945.75" width="77" height="86.25" fill="#89c6f2"/>
<rect x="1173.31" y="866.25" width="77" height="79.50" fill="#909be2"/>
<text x="1211.81" y="1152.22" font-size="15.7" fill="#ffffff" text-anchor="middle" font-weight="normal" >$274M</text>
<text x="1211.81" y="994.48" font-size="15.7" fill="#2a2a2a" text-anchor="middle" font-weight="normal" stroke="#8fc9f2" stroke-width="2.2" paint-order="stroke" stroke-linejoin="round">$104M</text>
<text x="1211.81" y="910.80" font-size="15.7" fill="#f2f3ff" text-anchor="middle" font-weight="normal" stroke="#6675d4" stroke-width="1.8" paint-order="stroke" stroke-linejoin="round">$95M</text>
<text x="1211.81" y="1285.00" font-size="15.86" fill="#666a73" text-anchor="middle" font-weight="normal" >New York</text>
<rect x="1285.44" y="1060.75" width="77" height="200.50" fill="#5f6fd6"/>
<rect x="1285.44" y="993.75" width="77" height="67.00" fill="#89c6f2"/>
<rect x="1285.44" y="880.75" width="77" height="113.00" fill="#909be2"/>
<text x="1323.94" y="1166.60" font-size="15.7" fill="#ffffff" text-anchor="middle" font-weight="normal" >$240M</text>
<text x="1323.94" y="1032.85" font-size="15.7" fill="#2a2a2a" text-anchor="middle" font-weight="normal" stroke="#8fc9f2" stroke-width="2.2" paint-order="stroke" stroke-linejoin="round">$80M</text>
<text x="1323.94" y="942.05" font-size="15.7" fill="#f2f3ff" text-anchor="middle" font-weight="normal" stroke="#6675d4" stroke-width="1.8" paint-order="stroke" stroke-linejoin="round">$136M</text>
<text x="1323.94" y="1285.00" font-size="15.86" fill="#666a73" text-anchor="middle" font-weight="normal" >California</text>
<rect x="1397.56" y="1128.25" width="77" height="133.00" fill="#5f6fd6"/>
<rect x="1397.56" y="1111.25" width="77" height="17.00" fill="#89c6f2"/>
<rect x="1397.56" y="1058.25" width="77" height="53.00" fill="#909be2"/>
<text x="1436.06" y="1200.35" font-size="15.7" fill="#ffffff" text-anchor="middle" font-weight="normal" >$159M</text>
<text x="1436.06" y="1125.35" font-size="15.7" fill="#2a2a2a" text-anchor="middle" font-weight="normal" stroke="#8fc9f2" stroke-width="2.2" paint-order="stroke" stroke-linejoin="round">$20M</text>
<text x="1436.06" y="1089.55" font-size="15.7" fill="#f2f3ff" text-anchor="middle" font-weight="normal" stroke="#6675d4" stroke-width="1.8" paint-order="stroke" stroke-linejoin="round">$63M</text>
<text x="1436.06" y="1285.00" font-size="15.86" fill="#666a73" text-anchor="middle" font-weight="normal" >Washington</text>
<rect x="1509.69" y="1209.5" width="77" height="51.75" fill="#5f6fd6"/>
<rect x="1509.69" y="1189.25" width="77" height="20.25" fill="#89c6f2"/>
<rect x="1509.69" y="1163.75" width="77" height="25.50" fill="#909be2"/>
<text x="1548.19" y="1240.97" font-size="15.7" fill="#ffffff" text-anchor="middle" font-weight="normal" >$62M</text>
<text x="1548.19" y="1204.97" font-size="15.7" fill="#2a2a2a" text-anchor="middle" font-weight="normal" stroke="#8fc9f2" stroke-width="2.2" paint-order="stroke" stroke-linejoin="round">$24M</text>
<text x="1548.19" y="1181.30" font-size="15.7" fill="#f2f3ff" text-anchor="middle" font-weight="normal" stroke="#6675d4" stroke-width="1.8" paint-order="stroke" stroke-linejoin="round">$31M</text>
<text x="1548.19" y="1285.00" font-size="15.86" fill="#666a73" text-anchor="middle" font-weight="normal" >Michigan</text>
<rect x="1621.81" y="1223" width="77" height="38.25" fill="#5f6fd6"/>
<rect x="1621.81" y="1213.75" width="77" height="9.25" fill="#89c6f2"/>
<rect x="1621.81" y="1167" width="77" height="46.75" fill="#909be2"/>
<text x="1660.31" y="1247.72" font-size="15.7" fill="#ffffff" text-anchor="middle" font-weight="normal" >$46M</text>
<text x="1660.31" y="1223.97" font-size="15.7" fill="#2a2a2a" text-anchor="middle" font-weight="normal" stroke="#8fc9f2" stroke-width="2.2" paint-order="stroke" stroke-linejoin="round">$10M</text>
<text x="1660.31" y="1195.17" font-size="15.7" fill="#f2f3ff" text-anchor="middle" font-weight="normal" stroke="#6675d4" stroke-width="1.8" paint-order="stroke" stroke-linejoin="round">$56M</text>
<text x="1660.31" y="1285.00" font-size="15.86" fill="#666a73" text-anchor="middle" font-weight="normal" >Virginia</text>
<rect x="1733.94" y="1205" width="77" height="56.25" fill="#5f6fd6"/>
<rect x="1733.94" y="1202" width="77" height="3.00" fill="#89c6f2"/>
<rect x="1733.94" y="1187.5" width="77" height="14.50" fill="#909be2"/>
<text x="1772.44" y="1238.72" font-size="15.7" fill="#ffffff" text-anchor="middle" font-weight="normal" >$67M</text>
<text x="1772.44" y="1199.55" font-size="15.7" fill="#f2f3ff" text-anchor="middle" font-weight="normal" stroke="#6675d4" stroke-width="1.8" paint-order="stroke" stroke-linejoin="round">$17M</text>
<text x="1772.44" y="1285.00" font-size="15.86" fill="#666a73" text-anchor="middle" font-weight="normal" >Delaware</text>
<rect x="1846.06" y="1226.75" width="77" height="34.50" fill="#5f6fd6"/>
<rect x="1846.06" y="1215.5" width="77" height="11.25" fill="#89c6f2"/>
<rect x="1846.06" y="1189.5" width="77" height="26.00" fill="#909be2"/>
<text x="1884.56" y="1249.60" font-size="15.7" fill="#ffffff" text-anchor="middle" font-weight="normal" >$41M</text>
<text x="1884.56" y="1226.72" font-size="15.7" fill="#2a2a2a" text-anchor="middle" font-weight="normal" stroke="#8fc9f2" stroke-width="2.2" paint-order="stroke" stroke-linejoin="round">$13M</text>
<text x="1884.56" y="1207.30" font-size="15.7" fill="#f2f3ff" text-anchor="middle" font-weight="normal" stroke="#6675d4" stroke-width="1.8" paint-order="stroke" stroke-linejoin="round">$32M</text>
<text x="1884.56" y="1285.00" font-size="15.86" fill="#666a73" text-anchor="middle" font-weight="normal" >Georgia</text>
<rect x="1958.19" y="1208" width="77" height="53.25" fill="#5f6fd6"/>
<rect x="1958.19" y="1196.25" width="77" height="11.75" fill="#89c6f2"/>
<rect x="1958.19" y="1194" width="77" height="2.25" fill="#909be2"/>
<text x="1996.69" y="1240.22" font-size="15.7" fill="#ffffff" text-anchor="middle" font-weight="normal" >$64M</text>
<text x="1996.69" y="1207.72" font-size="15.7" fill="#2a2a2a" text-anchor="middle" font-weight="normal" stroke="#8fc9f2" stroke-width="2.2" paint-order="stroke" stroke-linejoin="round">$14M</text>
<text x="1996.69" y="1285.00" font-size="15.86" fill="#666a73" text-anchor="middle" font-weight="normal" >Minnesota</text>
<rect x="2070.31" y="1242.5" width="77" height="18.75" fill="#5f6fd6"/>
<rect x="2070.31" y="1235" width="77" height="7.50" fill="#89c6f2"/>
<rect x="2070.31" y="1200.5" width="77" height="34.50" fill="#909be2"/>
<text x="2108.81" y="1257.47" font-size="15.7" fill="#ffffff" text-anchor="middle" font-weight="normal" >$22M</text>
<text x="2108.81" y="1222.55" font-size="15.7" fill="#f2f3ff" text-anchor="middle" font-weight="normal" stroke="#6675d4" stroke-width="1.8" paint-order="stroke" stroke-linejoin="round">$41M</text>
<text x="2108.81" y="1285.00" font-size="15.86" fill="#666a73" text-anchor="middle" font-weight="normal" >New Jersey</text>
<rect x="2182.44" y="1233" width="77" height="28.25" fill="#5f6fd6"/>
<rect x="2182.44" y="1215" width="77" height="18.00" fill="#89c6f2"/>
<rect x="2182.44" y="1205" width="77" height="10.00" fill="#909be2"/>
<text x="2220.94" y="1252.72" font-size="15.7" fill="#ffffff" text-anchor="middle" font-weight="normal" >$34M</text>
<text x="2220.94" y="1229.60" font-size="15.7" fill="#2a2a2a" text-anchor="middle" font-weight="normal" stroke="#8fc9f2" stroke-width="2.2" paint-order="stroke" stroke-linejoin="round">$21M</text>
<text x="2220.94" y="1285.00" font-size="15.86" fill="#666a73" text-anchor="middle" font-weight="normal" >Kentucky</text>
<line x1="1155.75" y1="1261.25" x2="2277" y2="1261.25" stroke="#6b6e78" stroke-width="1.8"/>
<line x1="1155.75" y1="1261.25" x2="1155.75" y2="1268.25" stroke="#6b6e78" stroke-width="1.5"/>
<line x1="1267.88" y1="1261.25" x2="1267.88" y2="1268.25" stroke="#6b6e78" stroke-width="1.5"/>
<line x1="1380.00" y1="1261.25" x2="1380.00" y2="1268.25" stroke="#6b6e78" stroke-width="1.5"/>
<line x1="1492.12" y1="1261.25" x2="1492.12" y2="1268.25" stroke="#6b6e78" stroke-width="1.5"/>
<line x1="1604.25" y1="1261.25" x2="1604.25" y2="1268.25" stroke="#6b6e78" stroke-width="1.5"/>
<line x1="1716.38" y1="1261.25" x2="1716.38" y2="1268.25" stroke="#6b6e78" stroke-width="1.5"/>
<line x1="1828.50" y1="1261.25" x2="1828.50" y2="1268.25" stroke="#6b6e78" stroke-width="1.5"/>
<line x1="1940.62" y1="1261.25" x2="1940.62" y2="1268.25" stroke="#6b6e78" stroke-width="1.5"/>
<line x1="2052.75" y1="1261.25" x2="2052.75" y2="1268.25" stroke="#6b6e78" stroke-width="1.5"/>
<line x1="2164.88" y1="1261.25" x2="2164.88" y2="1268.25" stroke="#6b6e78" stroke-width="1.5"/>
<line x1="2277.00" y1="1261.25" x2="2277.00" y2="1268.25" stroke="#6b6e78" stroke-width="1.5"/>
<rect x="1471" y="1298" width="19" height="19" rx="5" fill="#5f6fd6"/>
<text x="1496.00" y="1312.50" font-size="17" fill="#383b53" text-anchor="start" font-weight="normal" >Consumer</text>
<rect x="1612" y="1298" width="19" height="19" rx="5" fill="#89c6f2"/>
<text x="1636.50" y="1312.50" font-size="17" fill="#383b53" text-anchor="start" font-weight="normal" >Home Office</text>
<rect x="1769.25" y="1298" width="19" height="19" rx="5" fill="#909be2"/>
<text x="1793.25" y="1312.50" font-size="17" fill="#383b53" text-anchor="start" font-weight="normal" >Corporate</text>
<line x1="2464.25" y1="844.25" x2="3307.5" y2="844.25" stroke="#dfe4f3" stroke-width="1.2"/>
<text x="2452.50" y="849.55" font-size="15.8" fill="#666a73" text-anchor="end" font-weight="normal" >900.00K</text>
<line x1="2464.25" y1="915" x2="3307.5" y2="915" stroke="#dfe4f3" stroke-width="1.2"/>
<text x="2452.50" y="920.30" font-size="15.8" fill="#666a73" text-anchor="end" font-weight="normal" >600.00K</text>
<line x1="2464.25" y1="985.5" x2="3307.5" y2="985.5" stroke="#dfe4f3" stroke-width="1.2"/>
<text x="2452.50" y="990.80" font-size="15.8" fill="#666a73" text-anchor="end" font-weight="normal" >300.00K</text>
<text x="2452.50" y="1061.55" font-size="15.8" fill="#666a73" text-anchor="end" font-weight="normal" >0.00</text>
<line x1="2464.25" y1="1127.5" x2="3307.5" y2="1127.5" stroke="#dfe4f3" stroke-width="1.2"/>
<text x="2452.50" y="1132.80" font-size="15.8" fill="#666a73" text-anchor="end" font-weight="normal" >-300.00K</text>
<line x1="2464.25" y1="1198.5" x2="3307.5" y2="1198.5" stroke="#dfe4f3" stroke-width="1.2"/>
<text x="2452.50" y="1203.80" font-size="15.8" fill="#666a73" text-anchor="end" font-weight="normal" >-600.00K</text>
<g stroke="#5f6fd6" stroke-width="1.5">
<line x1="2474.29" y1="953" x2="2474.29" y2="1014.5"/>
<line x1="2474.29" y1="1055.5" x2="2474.29" y2="1117.5"/>
<line x1="2467.39" y1="953" x2="2481.19" y2="953" stroke-width="1.8"/>
<line x1="2467.39" y1="1117.5" x2="2481.19" y2="1117.5" stroke-width="1.8"/>
<rect x="2467.39" y="1014.5" width="13.8" height="41.00" fill="#5f6fd6" fill-opacity="0.42"/>
<line x1="2467.39" y1="1045.5" x2="2481.19" y2="1045.5" stroke-width="1.8"/>
<line x1="2494.37" y1="1002.5" x2="2494.37" y2="1034.5"/>
<line x1="2494.37" y1="1057" x2="2494.37" y2="1088.25"/>
<line x1="2487.47" y1="1002.5" x2="2501.27" y2="1002.5" stroke-width="1.8"/>
<line x1="2487.47" y1="1088.25" x2="2501.27" y2="1088.25" stroke-width="1.8"/>
<rect x="2487.47" y="1034.5" width="13.8" height="22.50" fill="#5f6fd6" fill-opacity="0.42"/>
<line x1="2487.47" y1="1046.25" x2="2501.27" y2="1046.25" stroke-width="1.8"/>
<line x1="2514.44" y1="991.25" x2="2514.44" y2="1030.5"/>
<line x1="2514.44" y1="1055.5" x2="2514.44" y2="1095"/>
<line x1="2507.54" y1="991.25" x2="2521.34" y2="991.25" stroke-width="1.8"/>
<line x1="2507.54" y1="1095" x2="2521.34" y2="1095" stroke-width="1.8"/>
<rect x="2507.54" y="1030.5" width="13.8" height="25.00" fill="#5f6fd6" fill-opacity="0.42"/>
<line x1="2507.54" y1="1050" x2="2521.34" y2="1050" stroke-width="1.8"/>
<line x1="2534.52" y1="949.5" x2="2534.52" y2="1012.5"/>
<line x1="2534.52" y1="1055.5" x2="2534.52" y2="1116.75"/>
<line x1="2527.62" y1="949.5" x2="2541.42" y2="949.5" stroke-width="1.8"/>
<line x1="2527.62" y1="1116.75" x2="2541.42" y2="1116.75" stroke-width="1.8"/>
<rect x="2527.62" y="1012.5" width="13.8" height="43.00" fill="#5f6fd6" fill-opacity="0.42"/>
<line x1="2527.62" y1="1046.75" x2="2541.42" y2="1046.75" stroke-width="1.8"/>
<line x1="2554.60" y1="955.75" x2="2554.60" y2="1015.5"/>
<line x1="2554.60" y1="1055.5" x2="2554.60" y2="1115"/>
<line x1="2547.70" y1="955.75" x2="2561.50" y2="955.75" stroke-width="1.8"/>
<line x1="2547.70" y1="1115" x2="2561.50" y2="1115" stroke-width="1.8"/>
<rect x="2547.70" y="1015.5" width="13.8" height="40.00" fill="#5f6fd6" fill-opacity="0.42"/>
<line x1="2547.70" y1="1048.25" x2="2561.50" y2="1048.25" stroke-width="1.8"/>
<line x1="2574.68" y1="981.25" x2="2574.68" y2="1026.25"/>
<line x1="2574.68" y1="1057" x2="2574.68" y2="1101.25"/>
<line x1="2567.78" y1="981.25" x2="2581.58" y2="981.25" stroke-width="1.8"/>
<line x1="2567.78" y1="1101.25" x2="2581.58" y2="1101.25" stroke-width="1.8"/>
<rect x="2567.78" y="1026.25" width="13.8" height="30.75" fill="#5f6fd6" fill-opacity="0.42"/>
<line x1="2567.78" y1="1050.75" x2="2581.58" y2="1050.75" stroke-width="1.8"/>
<line x1="2594.75" y1="980.75" x2="2594.75" y2="1025.5"/>
<line x1="2594.75" y1="1055.5" x2="2594.75" y2="1100"/>
<line x1="2587.85" y1="980.75" x2="2601.65" y2="980.75" stroke-width="1.8"/>
<line x1="2587.85" y1="1100" x2="2601.65" y2="1100" stroke-width="1.8"/>
<rect x="2587.85" y="1025.5" width="13.8" height="30.00" fill="#5f6fd6" fill-opacity="0.42"/>
<line x1="2587.85" y1="1047" x2="2601.65" y2="1047" stroke-width="1.8"/>
<line x1="2614.83" y1="928" x2="2614.83" y2="1003.75"/>
<line x1="2614.83" y1="1055.5" x2="2614.83" y2="1130"/>
<line x1="2607.93" y1="928" x2="2621.73" y2="928" stroke-width="1.8"/>
<line x1="2607.93" y1="1130" x2="2621.73" y2="1130" stroke-width="1.8"/>
<rect x="2607.93" y="1003.75" width="13.8" height="51.75" fill="#5f6fd6" fill-opacity="0.42"/>
<line x1="2607.93" y1="1043" x2="2621.73" y2="1043" stroke-width="1.8"/>
<line x1="2634.91" y1="969.25" x2="2634.91" y2="1021.25"/>
<line x1="2634.91" y1="1055.5" x2="2634.91" y2="1107.5"/>
<line x1="2628.01" y1="969.25" x2="2641.81" y2="969.25" stroke-width="1.8"/>
<line x1="2628.01" y1="1107.5" x2="2641.81" y2="1107.5" stroke-width="1.8"/>
<rect x="2628.01" y="1021.25" width="13.8" height="34.25" fill="#5f6fd6" fill-opacity="0.42"/>
<line x1="2628.01" y1="1046.25" x2="2641.81" y2="1046.25" stroke-width="1.8"/>
<line x1="2654.99" y1="975.5" x2="2654.99" y2="1023.75"/>
<line x1="2654.99" y1="1055.5" x2="2654.99" y2="1104.25"/>
<line x1="2648.09" y1="975.5" x2="2661.89" y2="975.5" stroke-width="1.8"/>
<line x1="2648.09" y1="1104.25" x2="2661.89" y2="1104.25" stroke-width="1.8"/>
<rect x="2648.09" y="1023.75" width="13.8" height="31.75" fill="#5f6fd6" fill-opacity="0.42"/>
<line x1="2648.09" y1="1047" x2="2661.89" y2="1047" stroke-width="1.8"/>
<line x1="2675.06" y1="973.25" x2="2675.06" y2="1023"/>
<line x1="2675.06" y1="1055.5" x2="2675.06" y2="1105.75"/>
<line x1="2668.16" y1="973.25" x2="2681.96" y2="973.25" stroke-width="1.8"/>
<line x1="2668.16" y1="1105.75" x2="2681.96" y2="1105.75" stroke-width="1.8"/>
<rect x="2668.16" y="1023" width="13.8" height="32.50" fill="#5f6fd6" fill-opacity="0.42"/>
<line x1="2668.16" y1="1045.75" x2="2681.96" y2="1045.75" stroke-width="1.8"/>
<line x1="2695.14" y1="962.5" x2="2695.14" y2="1018.75"/>
<line x1="2695.14" y1="1057" x2="2695.14" y2="1112.5"/>
<line x1="2688.24" y1="962.5" x2="2702.04" y2="962.5" stroke-width="1.8"/>
<line x1="2688.24" y1="1112.5" x2="2702.04" y2="1112.5" stroke-width="1.8"/>
<rect x="2688.24" y="1018.75" width="13.8" height="38.25" fill="#5f6fd6" fill-opacity="0.42"/>
<line x1="2688.24" y1="1045.75" x2="2702.04" y2="1045.75" stroke-width="1.8"/>
<line x1="2715.22" y1="961.25" x2="2715.22" y2="1019.5"/>
<line x1="2715.22" y1="1058.75" x2="2715.22" y2="1117.5"/>
<line x1="2708.32" y1="961.25" x2="2722.12" y2="961.25" stroke-width="1.8"/>
<line x1="2708.32" y1="1117.5" x2="2722.12" y2="1117.5" stroke-width="1.8"/>
<rect x="2708.32" y="1019.5" width="13.8" height="39.25" fill="#5f6fd6" fill-opacity="0.42"/>
<line x1="2708.32" y1="1050.75" x2="2722.12" y2="1050.75" stroke-width="1.8"/>
<line x1="2735.29" y1="960.5" x2="2735.29" y2="1017.5"/>
<line x1="2735.29" y1="1055.5" x2="2735.29" y2="1113.25"/>
<line x1="2728.39" y1="960.5" x2="2742.19" y2="960.5" stroke-width="1.8"/>
<line x1="2728.39" y1="1113.25" x2="2742.19" y2="1113.25" stroke-width="1.8"/>
<rect x="2728.39" y="1017.5" width="13.8" height="38.00" fill="#5f6fd6" fill-opacity="0.42"/>
<line x1="2728.39" y1="1050.75" x2="2742.19" y2="1050.75" stroke-width="1.8"/>
<line x1="2755.37" y1="915.5" x2="2755.37" y2="999.5"/>
<line x1="2755.37" y1="1055.5" x2="2755.37" y2="1138.75"/>
<line x1="2748.47" y1="915.5" x2="2762.27" y2="915.5" stroke-width="1.8"/>
<line x1="2748.47" y1="1138.75" x2="2762.27" y2="1138.75" stroke-width="1.8"/>
<rect x="2748.47" y="999.5" width="13.8" height="56.00" fill="#5f6fd6" fill-opacity="0.42"/>
<line x1="2748.47" y1="1043.75" x2="2762.27" y2="1043.75" stroke-width="1.8"/>
<line x1="2775.45" y1="978.25" x2="2775.45" y2="1024.5"/>
<line x1="2775.45" y1="1055.5" x2="2775.45" y2="1102"/>
<line x1="2768.55" y1="978.25" x2="2782.35" y2="978.25" stroke-width="1.8"/>
<line x1="2768.55" y1="1102" x2="2782.35" y2="1102" stroke-width="1.8"/>
<rect x="2768.55" y="1024.5" width="13.8" height="31.00" fill="#5f6fd6" fill-opacity="0.42"/>
<line x1="2768.55" y1="1046.25" x2="2782.35" y2="1046.25" stroke-width="1.8"/>
<line x1="2795.53" y1="946.25" x2="2795.53" y2="1011.75"/>
<line x1="2795.53" y1="1055.5" x2="2795.53" y2="1120.75"/>
<line x1="2788.63" y1="946.25" x2="2802.43" y2="946.25" stroke-width="1.8"/>
<line x1="2788.63" y1="1120.75" x2="2802.43" y2="1120.75" stroke-width="1.8"/>
<rect x="2788.63" y="1011.75" width="13.8" height="43.75" fill="#5f6fd6" fill-opacity="0.42"/>
<line x1="2788.63" y1="1045" x2="2802.43" y2="1045" stroke-width="1.8"/>
<line x1="2815.60" y1="990.75" x2="2815.60" y2="1029.5"/>
<line x1="2815.60" y1="1055.5" x2="2815.60" y2="1093.75"/>
<line x1="2808.70" y1="990.75" x2="2822.50" y2="990.75" stroke-width="1.8"/>
<line x1="2808.70" y1="1093.75" x2="2822.50" y2="1093.75" stroke-width="1.8"/>
<rect x="2808.70" y="1029.5" width="13.8" height="26.00" fill="#5f6fd6" fill-opacity="0.42"/>
<line x1="2808.70" y1="1047" x2="2822.50" y2="1047" stroke-width="1.8"/>
<line x1="2835.68" y1="945" x2="2835.68" y2="1011.25"/>
<line x1="2835.68" y1="1055.5" x2="2835.68" y2="1122"/>
<line x1="2828.78" y1="945" x2="2842.58" y2="945" stroke-width="1.8"/>
<line x1="2828.78" y1="1122" x2="2842.58" y2="1122" stroke-width="1.8"/>
<rect x="2828.78" y="1011.25" width="13.8" height="44.25" fill="#5f6fd6" fill-opacity="0.42"/>
<line x1="2828.78" y1="1047.5" x2="2842.58" y2="1047.5" stroke-width="1.8"/>
<line x1="2855.76" y1="960.5" x2="2855.76" y2="1017.5"/>
<line x1="2855.76" y1="1055.5" x2="2855.76" y2="1113.25"/>
<line x1="2848.86" y1="960.5" x2="2862.66" y2="960.5" stroke-width="1.8"/>
<line x1="2848.86" y1="1113.25" x2="2862.66" y2="1113.25" stroke-width="1.8"/>
<rect x="2848.86" y="1017.5" width="13.8" height="38.00" fill="#5f6fd6" fill-opacity="0.42"/>
<line x1="2848.86" y1="1048.25" x2="2862.66" y2="1048.25" stroke-width="1.8"/>
<line x1="2875.84" y1="973.25" x2="2875.84" y2="1022.5"/>
<line x1="2875.84" y1="1055.5" x2="2875.84" y2="1105"/>
<line x1="2868.94" y1="973.25" x2="2882.74" y2="973.25" stroke-width="1.8"/>
<line x1="2868.94" y1="1105" x2="2882.74" y2="1105" stroke-width="1.8"/>
<rect x="2868.94" y="1022.5" width="13.8" height="33.00" fill="#5f6fd6" fill-opacity="0.42"/>
<line x1="2868.94" y1="1048.25" x2="2882.74" y2="1048.25" stroke-width="1.8"/>
<line x1="2895.91" y1="959.25" x2="2895.91" y2="1017"/>
<line x1="2895.91" y1="1055.5" x2="2895.91" y2="1113.75"/>
<line x1="2889.01" y1="959.25" x2="2902.81" y2="959.25" stroke-width="1.8"/>
<line x1="2889.01" y1="1113.75" x2="2902.81" y2="1113.75" stroke-width="1.8"/>
<rect x="2889.01" y="1017" width="13.8" height="38.50" fill="#5f6fd6" fill-opacity="0.42"/>
<line x1="2889.01" y1="1046.25" x2="2902.81" y2="1046.25" stroke-width="1.8"/>
<line x1="2915.99" y1="933.75" x2="2915.99" y2="1007"/>
<line x1="2915.99" y1="1055.5" x2="2915.99" y2="1129.25"/>
<line x1="2909.09" y1="933.75" x2="2922.89" y2="933.75" stroke-width="1.8"/>
<line x1="2909.09" y1="1129.25" x2="2922.89" y2="1129.25" stroke-width="1.8"/>
<rect x="2909.09" y="1007" width="13.8" height="48.50" fill="#5f6fd6" fill-opacity="0.42"/>
<line x1="2909.09" y1="1045.75" x2="2922.89" y2="1045.75" stroke-width="1.8"/>
<line x1="2936.07" y1="956.25" x2="2936.07" y2="1015.5"/>
<line x1="2936.07" y1="1055.5" x2="2936.07" y2="1113.75"/>
<line x1="2929.17" y1="956.25" x2="2942.97" y2="956.25" stroke-width="1.8"/>
<line x1="2929.17" y1="1113.75" x2="2942.97" y2="1113.75" stroke-width="1.8"/>
<rect x="2929.17" y="1015.5" width="13.8" height="40.00" fill="#5f6fd6" fill-opacity="0.42"/>
<line x1="2929.17" y1="1046.25" x2="2942.97" y2="1046.25" stroke-width="1.8"/>
<line x1="2956.15" y1="954.25" x2="2956.15" y2="1015"/>
<line x1="2956.15" y1="1055.5" x2="2956.15" y2="1116.25"/>
<line x1="2949.25" y1="954.25" x2="2963.05" y2="954.25" stroke-width="1.8"/>
<line x1="2949.25" y1="1116.25" x2="2963.05" y2="1116.25" stroke-width="1.8"/>
<rect x="2949.25" y="1015" width="13.8" height="40.50" fill="#5f6fd6" fill-opacity="0.42"/>
<line x1="2949.25" y1="1042" x2="2963.05" y2="1042" stroke-width="1.8"/>
<line x1="2976.22" y1="852.5" x2="2976.22" y2="973.75"/>
<line x1="2976.22" y1="1055.5" x2="2976.22" y2="1175.75"/>
<line x1="2969.32" y1="852.5" x2="2983.12" y2="852.5" stroke-width="1.8"/>
<line x1="2969.32" y1="1175.75" x2="2983.12" y2="1175.75" stroke-width="1.8"/>
<rect x="2969.32" y="973.75" width="13.8" height="81.75" fill="#5f6fd6" fill-opacity="0.42"/>
<line x1="2969.32" y1="1040" x2="2983.12" y2="1040" stroke-width="1.8"/>
<line x1="2996.30" y1="978.75" x2="2996.30" y2="1025.5"/>
<line x1="2996.30" y1="1057.5" x2="2996.30" y2="1103"/>
<line x1="2989.40" y1="978.75" x2="3003.20" y2="978.75" stroke-width="1.8"/>
<line x1="2989.40" y1="1103" x2="3003.20" y2="1103" stroke-width="1.8"/>
<rect x="2989.40" y="1025.5" width="13.8" height="32.00" fill="#5f6fd6" fill-opacity="0.42"/>
<line x1="2989.40" y1="1049.25" x2="3003.20" y2="1049.25" stroke-width="1.8"/>
<line x1="3016.38" y1="995.5" x2="3016.38" y2="1031.75"/>
<line x1="3016.38" y1="1055.5" x2="3016.38" y2="1092.5"/>
<line x1="3009.48" y1="995.5" x2="3023.28" y2="995.5" stroke-width="1.8"/>
<line x1="3009.48" y1="1092.5" x2="3023.28" y2="1092.5" stroke-width="1.8"/>
<rect x="3009.48" y="1031.75" width="13.8" height="23.75" fill="#5f6fd6" fill-opacity="0.42"/>
<line x1="3009.48" y1="1048.25" x2="3023.28" y2="1048.25" stroke-width="1.8"/>
<line x1="3036.46" y1="981.5" x2="3036.46" y2="1026.25"/>
<line x1="3036.46" y1="1057" x2="3036.46" y2="1101.25"/>
<line x1="3029.56" y1="981.5" x2="3043.36" y2="981.5" stroke-width="1.8"/>
<line x1="3029.56" y1="1101.25" x2="3043.36" y2="1101.25" stroke-width="1.8"/>
<rect x="3029.56" y="1026.25" width="13.8" height="30.75" fill="#5f6fd6" fill-opacity="0.42"/>
<line x1="3029.56" y1="1050" x2="3043.36" y2="1050" stroke-width="1.8"/>
<line x1="3056.53" y1="958.75" x2="3056.53" y2="1016.25"/>
<line x1="3056.53" y1="1055.5" x2="3056.53" y2="1112.5"/>
<line x1="3049.63" y1="958.75" x2="3063.43" y2="958.75" stroke-width="1.8"/>
<line x1="3049.63" y1="1112.5" x2="3063.43" y2="1112.5" stroke-width="1.8"/>
<rect x="3049.63" y="1016.25" width="13.8" height="39.25" fill="#5f6fd6" fill-opacity="0.42"/>
<line x1="3049.63" y1="1045" x2="3063.43" y2="1045" stroke-width="1.8"/>
<line x1="3076.61" y1="983.75" x2="3076.61" y2="1026.75"/>
<line x1="3076.61" y1="1055.5" x2="3076.61" y2="1098.25"/>
<line x1="3069.71" y1="983.75" x2="3083.51" y2="983.75" stroke-width="1.8"/>
<line x1="3069.71" y1="1098.25" x2="3083.51" y2="1098.25" stroke-width="1.8"/>
<rect x="3069.71" y="1026.75" width="13.8" height="28.75" fill="#5f6fd6" fill-opacity="0.42"/>
<line x1="3069.71" y1="1050" x2="3083.51" y2="1050" stroke-width="1.8"/>
<line x1="3096.69" y1="971.25" x2="3096.69" y2="1022.5"/>
<line x1="3096.69" y1="1055.5" x2="3096.69" y2="1107"/>
<line x1="3089.79" y1="971.25" x2="3103.59" y2="971.25" stroke-width="1.8"/>
<line x1="3089.79" y1="1107" x2="3103.59" y2="1107" stroke-width="1.8"/>
<rect x="3089.79" y="1022.5" width="13.8" height="33.00" fill="#5f6fd6" fill-opacity="0.42"/>
<line x1="3089.79" y1="1047.5" x2="3103.59" y2="1047.5" stroke-width="1.8"/>
<line x1="3116.76" y1="988.25" x2="3116.76" y2="1028.75"/>
<line x1="3116.76" y1="1055.5" x2="3116.76" y2="1096.25"/>
<line x1="3109.86" y1="988.25" x2="3123.66" y2="988.25" stroke-width="1.8"/>
<line x1="3109.86" y1="1096.25" x2="3123.66" y2="1096.25" stroke-width="1.8"/>
<rect x="3109.86" y="1028.75" width="13.8" height="26.75" fill="#5f6fd6" fill-opacity="0.42"/>
<line x1="3109.86" y1="1049.25" x2="3123.66" y2="1049.25" stroke-width="1.8"/>
<line x1="3136.84" y1="961.25" x2="3136.84" y2="1017.5"/>
<line x1="3136.84" y1="1055.5" x2="3136.84" y2="1112"/>
<line x1="3129.94" y1="961.25" x2="3143.74" y2="961.25" stroke-width="1.8"/>
<line x1="3129.94" y1="1112" x2="3143.74" y2="1112" stroke-width="1.8"/>
<rect x="3129.94" y="1017.5" width="13.8" height="38.00" fill="#5f6fd6" fill-opacity="0.42"/>
<line x1="3129.94" y1="1048.25" x2="3143.74" y2="1048.25" stroke-width="1.8"/>
<line x1="3156.92" y1="964.5" x2="3156.92" y2="1019.25"/>
<line x1="3156.92" y1="1055.5" x2="3156.92" y2="1110"/>
<line x1="3150.02" y1="964.5" x2="3163.82" y2="964.5" stroke-width="1.8"/>
<line x1="3150.02" y1="1110" x2="3163.82" y2="1110" stroke-width="1.8"/>
<rect x="3150.02" y="1019.25" width="13.8" height="36.25" fill="#5f6fd6" fill-opacity="0.42"/>
<line x1="3150.02" y1="1047.5" x2="3163.82" y2="1047.5" stroke-width="1.8"/>
<line x1="3177.00" y1="929.25" x2="3177.00" y2="1005"/>
<line x1="3177.00" y1="1055.5" x2="3177.00" y2="1131.25"/>
<line x1="3170.10" y1="929.25" x2="3183.90" y2="929.25" stroke-width="1.8"/>
<line x1="3170.10" y1="1131.25" x2="3183.90" y2="1131.25" stroke-width="1.8"/>
<rect x="3170.10" y="1005" width="13.8" height="50.50" fill="#5f6fd6" fill-opacity="0.42"/>
<line x1="3170.10" y1="1045.5" x2="3183.90" y2="1045.5" stroke-width="1.8"/>
<line x1="3197.07" y1="983" x2="3197.07" y2="1026.25"/>
<line x1="3197.07" y1="1055.5" x2="3197.07" y2="1098.75"/>
<line x1="3190.17" y1="983" x2="3203.97" y2="983" stroke-width="1.8"/>
<line x1="3190.17" y1="1098.75" x2="3203.97" y2="1098.75" stroke-width="1.8"/>
<rect x="3190.17" y="1026.25" width="13.8" height="29.25" fill="#5f6fd6" fill-opacity="0.42"/>
<line x1="3190.17" y1="1048.25" x2="3203.97" y2="1048.25" stroke-width="1.8"/>
<line x1="3217.15" y1="978.25" x2="3217.15" y2="1024.5"/>
<line x1="3217.15" y1="1055.5" x2="3217.15" y2="1102"/>
<line x1="3210.25" y1="978.25" x2="3224.05" y2="978.25" stroke-width="1.8"/>
<line x1="3210.25" y1="1102" x2="3224.05" y2="1102" stroke-width="1.8"/>
<rect x="3210.25" y="1024.5" width="13.8" height="31.00" fill="#5f6fd6" fill-opacity="0.42"/>
<line x1="3210.25" y1="1047.5" x2="3224.05" y2="1047.5" stroke-width="1.8"/>
<line x1="3237.23" y1="953.25" x2="3237.23" y2="1014.5"/>
<line x1="3237.23" y1="1055.5" x2="3237.23" y2="1117"/>
<line x1="3230.33" y1="953.25" x2="3244.13" y2="953.25" stroke-width="1.8"/>
<line x1="3230.33" y1="1117" x2="3244.13" y2="1117" stroke-width="1.8"/>
<rect x="3230.33" y="1014.5" width="13.8" height="41.00" fill="#5f6fd6" fill-opacity="0.42"/>
<line x1="3230.33" y1="1046.25" x2="3244.13" y2="1046.25" stroke-width="1.8"/>
<line x1="3257.31" y1="974.5" x2="3257.31" y2="1023.25"/>
<line x1="3257.31" y1="1055.5" x2="3257.31" y2="1104.5"/>
<line x1="3250.41" y1="974.5" x2="3264.21" y2="974.5" stroke-width="1.8"/>
<line x1="3250.41" y1="1104.5" x2="3264.21" y2="1104.5" stroke-width="1.8"/>
<rect x="3250.41" y="1023.25" width="13.8" height="32.25" fill="#5f6fd6" fill-opacity="0.42"/>
<line x1="3250.41" y1="1047" x2="3264.21" y2="1047" stroke-width="1.8"/>
<line x1="3277.38" y1="959.25" x2="3277.38" y2="1017"/>
<line x1="3277.38" y1="1055.5" x2="3277.38" y2="1113.75"/>
<line x1="3270.48" y1="959.25" x2="3284.28" y2="959.25" stroke-width="1.8"/>
<line x1="3270.48" y1="1113.75" x2="3284.28" y2="1113.75" stroke-width="1.8"/>
<rect x="3270.48" y="1017" width="13.8" height="38.50" fill="#5f6fd6" fill-opacity="0.42"/>
<line x1="3270.48" y1="1047" x2="3284.28" y2="1047" stroke-width="1.8"/>
<line x1="3297.46" y1="995" x2="3297.46" y2="1031.75"/>
<line x1="3297.46" y1="1057.5" x2="3297.46" y2="1093"/>
<line x1="3290.56" y1="995" x2="3304.36" y2="995" stroke-width="1.8"/>
<line x1="3290.56" y1="1093" x2="3304.36" y2="1093" stroke-width="1.8"/>
<rect x="3290.56" y="1031.75" width="13.8" height="25.75" fill="#5f6fd6" fill-opacity="0.42"/>
<line x1="3290.56" y1="1052.5" x2="3304.36" y2="1052.5" stroke-width="1.8"/>
</g>
<line x1="2464.25" y1="1056.25" x2="3307.5" y2="1056.25" stroke="#6b6e78" stroke-width="1.8"/>
<line x1="2464.25" y1="1056.25" x2="2464.25" y2="1063.25" stroke="#6b6e78" stroke-width="1.5"/>
<text transform="translate(2477.55,1212.8) rotate(-45)" font-size="15.8" fill="#666a73" text-anchor="end">Jan 2020</text>
<line x1="2504.40" y1="1056.25" x2="2504.40" y2="1063.25" stroke="#6b6e78" stroke-width="1.5"/>
<text transform="translate(2517.70,1212.8) rotate(-45)" font-size="15.8" fill="#666a73" text-anchor="end">Mar 2020</text>
<line x1="2544.56" y1="1056.25" x2="2544.56" y2="1063.25" stroke="#6b6e78" stroke-width="1.5"/>
<text transform="translate(2557.86,1212.8) rotate(-45)" font-size="15.8" fill="#666a73" text-anchor="end">May 2020</text>
<line x1="2584.71" y1="1056.25" x2="2584.71" y2="1063.25" stroke="#6b6e78" stroke-width="1.5"/>
<text transform="translate(2598.01,1212.8) rotate(-45)" font-size="15.8" fill="#666a73" text-anchor="end">Jul 2020</text>
<line x1="2624.87" y1="1056.25" x2="2624.87" y2="1063.25" stroke="#6b6e78" stroke-width="1.5"/>
<text transform="translate(2638.17,1212.8) rotate(-45)" font-size="15.8" fill="#666a73" text-anchor="end">Sep 2020</text>
<line x1="2665.02" y1="1056.25" x2="2665.02" y2="1063.25" stroke="#6b6e78" stroke-width="1.5"/>
<text transform="translate(2678.32,1212.8) rotate(-45)" font-size="15.8" fill="#666a73" text-anchor="end">Nov 2020</text>
<line x1="2705.18" y1="1056.25" x2="2705.18" y2="1063.25" stroke="#6b6e78" stroke-width="1.5"/>
<text transform="translate(2718.48,1212.8) rotate(-45)" font-size="15.8" fill="#666a73" text-anchor="end">Jan 2021</text>
<line x1="2745.33" y1="1056.25" x2="2745.33" y2="1063.25" stroke="#6b6e78" stroke-width="1.5"/>
<text transform="translate(2758.63,1212.8) rotate(-45)" font-size="15.8" fill="#666a73" text-anchor="end">Mar 2021</text>
<line x1="2785.49" y1="1056.25" x2="2785.49" y2="1063.25" stroke="#6b6e78" stroke-width="1.5"/>
<text transform="translate(2798.79,1212.8) rotate(-45)" font-size="15.8" fill="#666a73" text-anchor="end">May 2021</text>
<line x1="2825.64" y1="1056.25" x2="2825.64" y2="1063.25" stroke="#6b6e78" stroke-width="1.5"/>
<text transform="translate(2838.94,1212.8) rotate(-45)" font-size="15.8" fill="#666a73" text-anchor="end">Jul 2021</text>
<line x1="2865.80" y1="1056.25" x2="2865.80" y2="1063.25" stroke="#6b6e78" stroke-width="1.5"/>
<text transform="translate(2879.10,1212.8) rotate(-45)" font-size="15.8" fill="#666a73" text-anchor="end">Sep 2021</text>
<line x1="2905.95" y1="1056.25" x2="2905.95" y2="1063.25" stroke="#6b6e78" stroke-width="1.5"/>
<text transform="translate(2919.25,1212.8) rotate(-45)" font-size="15.8" fill="#666a73" text-anchor="end">Nov 2021</text>
<line x1="2946.11" y1="1056.25" x2="2946.11" y2="1063.25" stroke="#6b6e78" stroke-width="1.5"/>
<text transform="translate(2959.41,1212.8) rotate(-45)" font-size="15.8" fill="#666a73" text-anchor="end">Jan 2022</text>
<line x1="2986.26" y1="1056.25" x2="2986.26" y2="1063.25" stroke="#6b6e78" stroke-width="1.5"/>
<text transform="translate(2999.56,1212.8) rotate(-45)" font-size="15.8" fill="#666a73" text-anchor="end">Mar 2022</text>
<line x1="3026.42" y1="1056.25" x2="3026.42" y2="1063.25" stroke="#6b6e78" stroke-width="1.5"/>
<text transform="translate(3039.72,1212.8) rotate(-45)" font-size="15.8" fill="#666a73" text-anchor="end">May 2022</text>
<line x1="3066.57" y1="1056.25" x2="3066.57" y2="1063.25" stroke="#6b6e78" stroke-width="1.5"/>
<text transform="translate(3079.87,1212.8) rotate(-45)" font-size="15.8" fill="#666a73" text-anchor="end">Jul 2022</text>
<line x1="3106.73" y1="1056.25" x2="3106.73" y2="1063.25" stroke="#6b6e78" stroke-width="1.5"/>
<text transform="translate(3120.03,1212.8) rotate(-45)" font-size="15.8" fill="#666a73" text-anchor="end">Sep 2022</text>
<line x1="3146.88" y1="1056.25" x2="3146.88" y2="1063.25" stroke="#6b6e78" stroke-width="1.5"/>
<text transform="translate(3160.18,1212.8) rotate(-45)" font-size="15.8" fill="#666a73" text-anchor="end">Nov 2022</text>
<line x1="3187.04" y1="1056.25" x2="3187.04" y2="1063.25" stroke="#6b6e78" stroke-width="1.5"/>
<text transform="translate(3200.34,1212.8) rotate(-45)" font-size="15.8" fill="#666a73" text-anchor="end">Jan 2023</text>
<line x1="3227.19" y1="1056.25" x2="3227.19" y2="1063.25" stroke="#6b6e78" stroke-width="1.5"/>
<text transform="translate(3240.49,1212.8) rotate(-45)" font-size="15.8" fill="#666a73" text-anchor="end">Mar 2023</text>
<line x1="3267.35" y1="1056.25" x2="3267.35" y2="1063.25" stroke="#6b6e78" stroke-width="1.5"/>
<text transform="translate(3280.65,1212.8) rotate(-45)" font-size="15.8" fill="#666a73" text-anchor="end">May 2023</text>
<line x1="3307.50" y1="1056.25" x2="3307.50" y2="1063.25" stroke="#6b6e78" stroke-width="1.5"/>
<line x1="3307.5" y1="1056.25" x2="3307.5" y2="1063.25" stroke="#6b6e78" stroke-width="1.5"/>
<text transform="translate(2357,1020.6) rotate(-90)" font-size="16" fill="#666a73" text-anchor="middle">Profit</text>
<text x="2885.75" y="1312.50" font-size="16" fill="#666a73" text-anchor="middle" font-weight="bold" >Order Date</text>
</svg>
</body></html>
